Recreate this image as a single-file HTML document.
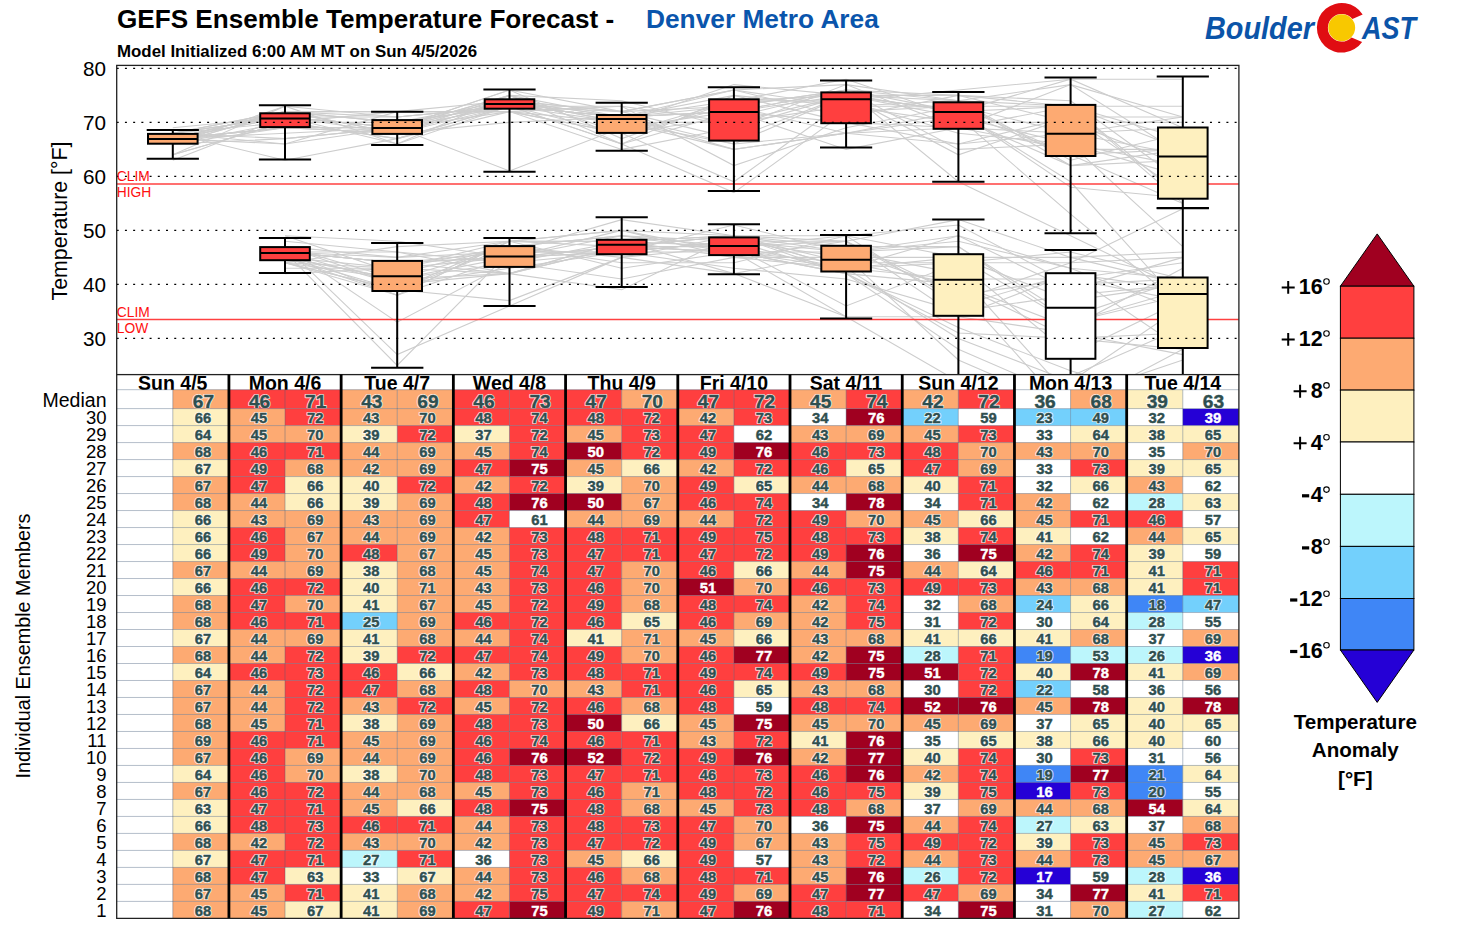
<!DOCTYPE html><html><head><meta charset="utf-8"><style>html,body{margin:0;padding:0;background:#fff;}svg{display:block;}</style></head><body>
<svg width="1458" height="937" viewBox="0 0 1458 937" font-family='"Liberation Sans", sans-serif'>
<rect width="1458" height="937" fill="#fff"/>
<text x="117" y="28.2" font-size="26.12" font-weight="bold" fill="#000">GEFS Ensemble Temperature Forecast -</text>
<text x="646" y="28.2" font-size="26.3" font-weight="bold" fill="#0a55ac">Denver Metro Area</text>
<text x="117" y="57.4" font-size="16.87" font-weight="bold" fill="#000">Model Initialized 6:00 AM MT on Sun 4/5/2026</text>
<g>
<text x="1205" y="39" font-size="31" font-weight="bold" font-style="italic" fill="#0b54a8" textLength="109" lengthAdjust="spacingAndGlyphs">Boulder</text>
<path d="M1362.66,14.55 A24.8,24.8 0 1,0 1362.11,41.88 L1351.56,37.46 A13.8,13.8 0 1,1 1352.42,19.12 Z" fill="#e00d12"/>
<circle cx="1341.7" cy="27.8" r="13.45" fill="#f8c800"/>
<text x="1362" y="39" font-size="31" font-weight="bold" font-style="italic" fill="#0b54a8" textLength="54" lengthAdjust="spacingAndGlyphs">AST</text>
</g>
<defs><clipPath id="pc"><rect x="116.7" y="65.4" width="1122.2" height="309.20000000000005"/></clipPath></defs>
<g clip-path="url(#pc)">
<polyline fill="none" stroke="#cdcdcd" stroke-width="1.1" points="172.8,144.0 285.0,111.6 397.2,122.4 509.5,100.8 621.7,111.6 733.9,106.2 846.1,90.0 958.4,181.8 1070.6,235.8 1182.8,289.8"/>
<polyline fill="none" stroke="#cdcdcd" stroke-width="1.1" points="285.0,257.4 397.2,268.2 509.5,241.2 621.7,241.2 733.9,273.6 846.1,316.8 958.4,381.6 1070.6,376.2 1182.8,327.6"/>
<polyline fill="none" stroke="#cdcdcd" stroke-width="1.1" points="172.8,154.8 285.0,122.4 397.2,111.6 509.5,111.6 621.7,106.2 733.9,165.6 846.1,127.8 958.4,106.2 1070.6,154.8 1182.8,149.4"/>
<polyline fill="none" stroke="#cdcdcd" stroke-width="1.1" points="285.0,257.4 397.2,289.8 509.5,300.6 621.7,257.4 733.9,246.6 846.1,268.2 958.4,257.4 1070.6,322.2 1182.8,295.2"/>
<polyline fill="none" stroke="#cdcdcd" stroke-width="1.1" points="172.8,133.2 285.0,117.0 397.2,127.8 509.5,100.8 621.7,111.6 733.9,90.0 846.1,106.2 958.4,122.4 1070.6,122.4 1182.8,122.4"/>
<polyline fill="none" stroke="#cdcdcd" stroke-width="1.1" points="285.0,252.0 397.2,262.8 509.5,257.4 621.7,230.4 733.9,235.8 846.1,252.0 958.4,241.2 1070.6,268.2 1182.8,311.4"/>
<polyline fill="none" stroke="#cdcdcd" stroke-width="1.1" points="172.8,138.6 285.0,133.2 397.2,127.8 509.5,95.4 621.7,144.0 733.9,111.6 846.1,149.4 958.4,127.8 1070.6,106.2 1182.8,149.4"/>
<polyline fill="none" stroke="#cdcdcd" stroke-width="1.1" points="285.0,235.8 397.2,273.6 509.5,246.6 621.7,257.4 733.9,273.6 846.1,252.0 958.4,246.6 1070.6,322.2 1182.8,289.8"/>
<polyline fill="none" stroke="#cdcdcd" stroke-width="1.1" points="172.8,138.6 285.0,144.0 397.2,111.6 509.5,111.6 621.7,122.4 733.9,149.4 846.1,133.2 958.4,117.0 1070.6,144.0 1182.8,165.6"/>
<polyline fill="none" stroke="#cdcdcd" stroke-width="1.1" points="285.0,246.6 397.2,284.4 509.5,273.6 621.7,289.8 733.9,235.8 846.1,262.8 958.4,284.4 1070.6,327.6 1182.8,268.2"/>
<polyline fill="none" stroke="#cdcdcd" stroke-width="1.1" points="172.8,133.2 285.0,144.0 397.2,127.8 509.5,90.0 621.7,138.6 733.9,100.8 846.1,79.2 958.4,117.0 1070.6,165.6 1182.8,160.2"/>
<polyline fill="none" stroke="#cdcdcd" stroke-width="1.1" points="285.0,262.8 397.2,289.8 509.5,241.2 621.7,230.4 733.9,252.0 846.1,316.8 958.4,316.8 1070.6,273.6 1182.8,349.2"/>
<polyline fill="none" stroke="#cdcdcd" stroke-width="1.1" points="172.8,144.0 285.0,127.8 397.2,127.8 509.5,171.0 621.7,127.8 733.9,111.6 846.1,122.4 958.4,144.0 1070.6,117.0 1182.8,192.6"/>
<polyline fill="none" stroke="#cdcdcd" stroke-width="1.1" points="285.0,268.2 397.2,268.2 509.5,246.6 621.7,262.8 733.9,262.8 846.1,235.8 958.4,257.4 1070.6,257.4 1182.8,252.0"/>
<polyline fill="none" stroke="#cdcdcd" stroke-width="1.1" points="172.8,144.0 285.0,138.6 397.2,127.8 509.5,106.2 621.7,117.0 733.9,95.4 846.1,106.2 958.4,100.8 1070.6,165.6 1182.8,149.4"/>
<polyline fill="none" stroke="#cdcdcd" stroke-width="1.1" points="285.0,252.0 397.2,262.8 509.5,273.6 621.7,241.2 733.9,235.8 846.1,241.2 958.4,295.2 1070.6,279.0 1182.8,262.8"/>
<polyline fill="none" stroke="#cdcdcd" stroke-width="1.1" points="172.8,144.0 285.0,122.4 397.2,138.6 509.5,106.2 621.7,117.0 733.9,111.6 846.1,90.0 958.4,95.4 1070.6,100.8 1182.8,181.8"/>
<polyline fill="none" stroke="#cdcdcd" stroke-width="1.1" points="285.0,235.8 397.2,241.2 509.5,257.4 621.7,246.6 733.9,246.6 846.1,235.8 958.4,306.0 1070.6,273.6 1182.8,289.8"/>
<polyline fill="none" stroke="#cdcdcd" stroke-width="1.1" points="172.8,138.6 285.0,127.8 397.2,133.2 509.5,100.8 621.7,122.4 733.9,144.0 846.1,95.4 958.4,154.8 1070.6,117.0 1182.8,117.0"/>
<polyline fill="none" stroke="#cdcdcd" stroke-width="1.1" points="285.0,262.8 397.2,295.2 509.5,257.4 621.7,246.6 733.9,252.0 846.1,262.8 958.4,262.8 1070.6,252.0 1182.8,279.0"/>
<polyline fill="none" stroke="#cdcdcd" stroke-width="1.1" points="172.8,144.0 285.0,111.6 397.2,117.0 509.5,106.2 621.7,122.4 733.9,122.4 846.1,106.2 958.4,106.2 1070.6,133.2 1182.8,117.0"/>
<polyline fill="none" stroke="#cdcdcd" stroke-width="1.1" points="285.0,252.0 397.2,284.4 509.5,268.2 621.7,252.0 733.9,225.0 846.1,252.0 958.4,235.8 1070.6,268.2 1182.8,279.0"/>
<polyline fill="none" stroke="#cdcdcd" stroke-width="1.1" points="172.8,133.2 285.0,122.4 397.2,138.6 509.5,111.6 621.7,133.2 733.9,100.8 846.1,100.8 958.4,133.2 1070.6,144.0 1182.8,246.6"/>
<polyline fill="none" stroke="#cdcdcd" stroke-width="1.1" points="285.0,246.6 397.2,279.0 509.5,257.4 621.7,235.8 733.9,241.2 846.1,273.6 958.4,327.6 1070.6,370.8 1182.8,403.2"/>
<polyline fill="none" stroke="#cdcdcd" stroke-width="1.1" points="172.8,133.2 285.0,117.0 397.2,127.8 509.5,111.6 621.7,149.4 733.9,127.8 846.1,95.4 958.4,111.6 1070.6,154.8 1182.8,203.4"/>
<polyline fill="none" stroke="#cdcdcd" stroke-width="1.1" points="285.0,252.0 397.2,365.4 509.5,252.0 621.7,252.0 733.9,252.0 846.1,273.6 958.4,333.0 1070.6,338.4 1182.8,349.2"/>
<polyline fill="none" stroke="#cdcdcd" stroke-width="1.1" points="172.8,138.6 285.0,127.8 397.2,133.2 509.5,100.8 621.7,117.0 733.9,144.0 846.1,133.2 958.4,144.0 1070.6,133.2 1182.8,127.8"/>
<polyline fill="none" stroke="#cdcdcd" stroke-width="1.1" points="285.0,262.8 397.2,279.0 509.5,262.8 621.7,279.0 733.9,257.4 846.1,268.2 958.4,279.0 1070.6,279.0 1182.8,300.6"/>
<polyline fill="none" stroke="#cdcdcd" stroke-width="1.1" points="172.8,133.2 285.0,111.6 397.2,111.6 509.5,100.8 621.7,122.4 733.9,84.6 846.1,95.4 958.4,117.0 1070.6,214.2 1182.8,306.0"/>
<polyline fill="none" stroke="#cdcdcd" stroke-width="1.1" points="285.0,262.8 397.2,289.8 509.5,246.6 621.7,235.8 733.9,252.0 846.1,273.6 958.4,349.2 1070.6,397.8 1182.8,360.0"/>
<polyline fill="none" stroke="#cdcdcd" stroke-width="1.1" points="172.8,154.8 285.0,106.2 397.2,144.0 509.5,106.2 621.7,117.0 733.9,100.8 846.1,95.4 958.4,111.6 1070.6,79.2 1182.8,127.8"/>
<polyline fill="none" stroke="#cdcdcd" stroke-width="1.1" points="285.0,252.0 397.2,252.0 509.5,273.6 621.7,241.2 733.9,235.8 846.1,235.8 958.4,225.0 1070.6,284.4 1182.8,279.0"/>
<polyline fill="none" stroke="#cdcdcd" stroke-width="1.1" points="172.8,138.6 285.0,111.6 397.2,133.2 509.5,122.4 621.7,117.0 733.9,149.4 846.1,133.2 958.4,111.6 1070.6,187.2 1182.8,198.0"/>
<polyline fill="none" stroke="#cdcdcd" stroke-width="1.1" points="285.0,262.8 397.2,246.6 509.5,241.2 621.7,268.2 733.9,252.0 846.1,268.2 958.4,338.4 1070.6,381.6 1182.8,306.0"/>
<polyline fill="none" stroke="#cdcdcd" stroke-width="1.1" points="172.8,138.6 285.0,111.6 397.2,111.6 509.5,111.6 621.7,133.2 733.9,181.8 846.1,100.8 958.4,90.0 1070.6,79.2 1182.8,79.2"/>
<polyline fill="none" stroke="#cdcdcd" stroke-width="1.1" points="285.0,262.8 397.2,268.2 509.5,257.4 621.7,252.0 733.9,241.2 846.1,241.2 958.4,219.6 1070.6,257.4 1182.8,284.4"/>
<polyline fill="none" stroke="#cdcdcd" stroke-width="1.1" points="172.8,133.2 285.0,117.0 397.2,127.8 509.5,106.2 621.7,144.0 733.9,95.4 846.1,122.4 958.4,127.8 1070.6,149.4 1182.8,149.4"/>
<polyline fill="none" stroke="#cdcdcd" stroke-width="1.1" points="285.0,257.4 397.2,295.2 509.5,241.2 621.7,230.4 733.9,257.4 846.1,257.4 958.4,257.4 1070.6,300.6 1182.8,284.4"/>
<polyline fill="none" stroke="#cdcdcd" stroke-width="1.1" points="172.8,127.8 285.0,117.0 397.2,127.8 509.5,100.8 621.7,117.0 733.9,111.6 846.1,90.0 958.4,149.4 1070.6,144.0 1182.8,176.4"/>
<polyline fill="none" stroke="#cdcdcd" stroke-width="1.1" points="285.0,252.0 397.2,257.4 509.5,252.0 621.7,252.0 733.9,268.2 846.1,279.0 958.4,311.4 1070.6,295.2 1182.8,284.4"/>
<polyline fill="none" stroke="#cdcdcd" stroke-width="1.1" points="172.8,138.6 285.0,127.8 397.2,127.8 509.5,90.0 621.7,111.6 733.9,90.0 846.1,84.6 958.4,100.8 1070.6,106.2 1182.8,198.0"/>
<polyline fill="none" stroke="#cdcdcd" stroke-width="1.1" points="285.0,252.0 397.2,262.8 509.5,252.0 621.7,219.6 733.9,235.8 846.1,273.6 958.4,284.4 1070.6,338.4 1182.8,333.0"/>
<polyline fill="none" stroke="#cdcdcd" stroke-width="1.1" points="172.8,154.8 285.0,122.4 397.2,122.4 509.5,106.2 621.7,117.0 733.9,106.2 846.1,90.0 958.4,100.8 1070.6,84.6 1182.8,154.8"/>
<polyline fill="none" stroke="#cdcdcd" stroke-width="1.1" points="285.0,252.0 397.2,295.2 509.5,241.2 621.7,246.6 733.9,252.0 846.1,252.0 958.4,273.6 1070.6,397.8 1182.8,387.0"/>
<polyline fill="none" stroke="#cdcdcd" stroke-width="1.1" points="172.8,138.6 285.0,111.6 397.2,133.2 509.5,106.2 621.7,117.0 733.9,111.6 846.1,95.4 958.4,95.4 1070.6,106.2 1182.8,203.4"/>
<polyline fill="none" stroke="#cdcdcd" stroke-width="1.1" points="285.0,252.0 397.2,262.8 509.5,257.4 621.7,252.0 733.9,241.2 846.1,252.0 958.4,289.8 1070.6,414.0 1182.8,392.4"/>
<polyline fill="none" stroke="#cdcdcd" stroke-width="1.1" points="172.8,160.2 285.0,117.0 397.2,144.0 509.5,95.4 621.7,133.2 733.9,106.2 846.1,133.2 958.4,127.8 1070.6,133.2 1182.8,154.8"/>
<polyline fill="none" stroke="#cdcdcd" stroke-width="1.1" points="285.0,246.6 397.2,257.4 509.5,241.2 621.7,241.2 733.9,257.4 846.1,241.2 958.4,300.6 1070.6,262.8 1182.8,208.8"/>
<polyline fill="none" stroke="#cdcdcd" stroke-width="1.1" points="172.8,144.0 285.0,106.2 397.2,117.0 509.5,106.2 621.7,106.2 733.9,122.4 846.1,95.4 958.4,100.8 1070.6,160.2 1182.8,133.2"/>
<polyline fill="none" stroke="#cdcdcd" stroke-width="1.1" points="285.0,241.2 397.2,252.0 509.5,262.8 621.7,241.2 733.9,246.6 846.1,306.0 958.4,262.8 1070.6,354.6 1182.8,300.6"/>
<polyline fill="none" stroke="#cdcdcd" stroke-width="1.1" points="172.8,133.2 285.0,111.6 397.2,122.4 509.5,106.2 621.7,111.6 733.9,138.6 846.1,95.4 958.4,111.6 1070.6,106.2 1182.8,106.2"/>
<polyline fill="none" stroke="#cdcdcd" stroke-width="1.1" points="285.0,273.6 397.2,268.2 509.5,273.6 621.7,246.6 733.9,235.8 846.1,268.2 958.4,235.8 1070.6,289.8 1182.8,257.4"/>
<polyline fill="none" stroke="#cdcdcd" stroke-width="1.1" points="172.8,138.6 285.0,117.0 397.2,117.0 509.5,106.2 621.7,144.0 733.9,192.6 846.1,111.6 958.4,106.2 1070.6,106.2 1182.8,138.6"/>
<polyline fill="none" stroke="#cdcdcd" stroke-width="1.1" points="285.0,246.6 397.2,354.6 509.5,306.0 621.7,257.4 733.9,235.8 846.1,268.2 958.4,262.8 1070.6,262.8 1182.8,257.4"/>
<polyline fill="none" stroke="#cdcdcd" stroke-width="1.1" points="172.8,133.2 285.0,160.2 397.2,138.6 509.5,106.2 621.7,133.2 733.9,117.0 846.1,90.0 958.4,111.6 1070.6,181.8 1182.8,306.0"/>
<polyline fill="none" stroke="#cdcdcd" stroke-width="1.1" points="285.0,246.6 397.2,322.2 509.5,262.8 621.7,252.0 733.9,241.2 846.1,257.4 958.4,360.0 1070.6,408.6 1182.8,349.2"/>
<polyline fill="none" stroke="#cdcdcd" stroke-width="1.1" points="172.8,138.6 285.0,117.0 397.2,133.2 509.5,95.4 621.7,100.8 733.9,127.8 846.1,84.6 958.4,127.8 1070.6,84.6 1182.8,117.0"/>
<polyline fill="none" stroke="#cdcdcd" stroke-width="1.1" points="285.0,257.4 397.2,279.0 509.5,273.6 621.7,246.6 733.9,235.8 846.1,246.6 958.4,246.6 1070.6,316.8 1182.8,279.0"/>
<polyline fill="none" stroke="#cdcdcd" stroke-width="1.1" points="172.8,133.2 285.0,138.6 397.2,127.8 509.5,95.4 621.7,117.0 733.9,90.0 846.1,117.0 958.4,95.4 1070.6,122.4 1182.8,165.6"/>
<polyline fill="none" stroke="#cdcdcd" stroke-width="1.1" points="285.0,257.4 397.2,279.0 509.5,246.6 621.7,235.8 733.9,246.6 846.1,241.2 958.4,316.8 1070.6,333.0 1182.8,354.6"/>
<line x1="116.7" x2="1238.9" y1="183.9" y2="183.9" stroke="#ff4040" stroke-width="1.5"/>
<line x1="116.7" x2="1238.9" y1="319.6" y2="319.6" stroke="#ff4040" stroke-width="1.5"/>
<line x1="172.8" x2="172.8" y1="130.0" y2="133.9" stroke="#000" stroke-width="2.0"/>
<line x1="172.8" x2="172.8" y1="143.7" y2="158.7" stroke="#000" stroke-width="2.0"/>
<line x1="146.7" x2="198.9" y1="130.0" y2="130.0" stroke="#000" stroke-width="2.0"/>
<line x1="146.7" x2="198.9" y1="158.7" y2="158.7" stroke="#000" stroke-width="2.0"/>
<rect x="148.0" y="133.9" width="49.6" height="9.8" fill="#fdaa72" stroke="#000" stroke-width="2.0"/>
<line x1="148.0" x2="197.6" y1="138.9" y2="138.9" stroke="#000" stroke-width="2.0"/>
<line x1="285.0" x2="285.0" y1="105.2" y2="113.3" stroke="#000" stroke-width="2.0"/>
<line x1="285.0" x2="285.0" y1="127.1" y2="159.5" stroke="#000" stroke-width="2.0"/>
<line x1="258.9" x2="311.1" y1="105.2" y2="105.2" stroke="#000" stroke-width="2.0"/>
<line x1="258.9" x2="311.1" y1="159.5" y2="159.5" stroke="#000" stroke-width="2.0"/>
<rect x="260.2" y="113.3" width="49.6" height="13.8" fill="#ff3f3f" stroke="#000" stroke-width="2.0"/>
<line x1="260.2" x2="309.8" y1="118.4" y2="118.4" stroke="#000" stroke-width="2.0"/>
<line x1="285.0" x2="285.0" y1="237.9" y2="247.1" stroke="#000" stroke-width="2.0"/>
<line x1="285.0" x2="285.0" y1="260.2" y2="272.9" stroke="#000" stroke-width="2.0"/>
<line x1="258.9" x2="311.1" y1="237.9" y2="237.9" stroke="#000" stroke-width="2.0"/>
<line x1="258.9" x2="311.1" y1="272.9" y2="272.9" stroke="#000" stroke-width="2.0"/>
<rect x="260.2" y="247.1" width="49.6" height="13.1" fill="#ff3f3f" stroke="#000" stroke-width="2.0"/>
<line x1="260.2" x2="309.8" y1="252.9" y2="252.9" stroke="#000" stroke-width="2.0"/>
<line x1="397.2" x2="397.2" y1="111.7" y2="120.1" stroke="#000" stroke-width="2.0"/>
<line x1="397.2" x2="397.2" y1="133.9" y2="145.0" stroke="#000" stroke-width="2.0"/>
<line x1="371.1" x2="423.4" y1="111.7" y2="111.7" stroke="#000" stroke-width="2.0"/>
<line x1="371.1" x2="423.4" y1="145.0" y2="145.0" stroke="#000" stroke-width="2.0"/>
<rect x="372.4" y="120.1" width="49.6" height="13.8" fill="#fdaa72" stroke="#000" stroke-width="2.0"/>
<line x1="372.4" x2="422.1" y1="128.0" y2="128.0" stroke="#000" stroke-width="2.0"/>
<line x1="397.2" x2="397.2" y1="243.0" y2="260.9" stroke="#000" stroke-width="2.0"/>
<line x1="397.2" x2="397.2" y1="291.0" y2="367.8" stroke="#000" stroke-width="2.0"/>
<line x1="371.1" x2="423.4" y1="243.0" y2="243.0" stroke="#000" stroke-width="2.0"/>
<line x1="371.1" x2="423.4" y1="367.8" y2="367.8" stroke="#000" stroke-width="2.0"/>
<rect x="372.4" y="260.9" width="49.6" height="30.1" fill="#fdaa72" stroke="#000" stroke-width="2.0"/>
<line x1="372.4" x2="422.1" y1="276.2" y2="276.2" stroke="#000" stroke-width="2.0"/>
<line x1="509.5" x2="509.5" y1="89.4" y2="99.3" stroke="#000" stroke-width="2.0"/>
<line x1="509.5" x2="509.5" y1="108.7" y2="171.8" stroke="#000" stroke-width="2.0"/>
<line x1="483.4" x2="535.6" y1="89.4" y2="89.4" stroke="#000" stroke-width="2.0"/>
<line x1="483.4" x2="535.6" y1="171.8" y2="171.8" stroke="#000" stroke-width="2.0"/>
<rect x="484.7" y="99.3" width="49.6" height="9.4" fill="#ff3f3f" stroke="#000" stroke-width="2.0"/>
<line x1="484.7" x2="534.3" y1="104.0" y2="104.0" stroke="#000" stroke-width="2.0"/>
<line x1="509.5" x2="509.5" y1="238.1" y2="246.1" stroke="#000" stroke-width="2.0"/>
<line x1="509.5" x2="509.5" y1="266.9" y2="305.9" stroke="#000" stroke-width="2.0"/>
<line x1="483.4" x2="535.6" y1="238.1" y2="238.1" stroke="#000" stroke-width="2.0"/>
<line x1="483.4" x2="535.6" y1="305.9" y2="305.9" stroke="#000" stroke-width="2.0"/>
<rect x="484.7" y="246.1" width="49.6" height="20.8" fill="#fdaa72" stroke="#000" stroke-width="2.0"/>
<line x1="484.7" x2="534.3" y1="256.6" y2="256.6" stroke="#000" stroke-width="2.0"/>
<line x1="621.7" x2="621.7" y1="102.7" y2="115.0" stroke="#000" stroke-width="2.0"/>
<line x1="621.7" x2="621.7" y1="132.9" y2="150.8" stroke="#000" stroke-width="2.0"/>
<line x1="595.6" x2="647.8" y1="102.7" y2="102.7" stroke="#000" stroke-width="2.0"/>
<line x1="595.6" x2="647.8" y1="150.8" y2="150.8" stroke="#000" stroke-width="2.0"/>
<rect x="596.9" y="115.0" width="49.6" height="17.9" fill="#fdaa72" stroke="#000" stroke-width="2.0"/>
<line x1="596.9" x2="646.5" y1="118.9" y2="118.9" stroke="#000" stroke-width="2.0"/>
<line x1="621.7" x2="621.7" y1="217.2" y2="239.8" stroke="#000" stroke-width="2.0"/>
<line x1="621.7" x2="621.7" y1="254.2" y2="287.1" stroke="#000" stroke-width="2.0"/>
<line x1="595.6" x2="647.8" y1="217.2" y2="217.2" stroke="#000" stroke-width="2.0"/>
<line x1="595.6" x2="647.8" y1="287.1" y2="287.1" stroke="#000" stroke-width="2.0"/>
<rect x="596.9" y="239.8" width="49.6" height="14.4" fill="#ff3f3f" stroke="#000" stroke-width="2.0"/>
<line x1="596.9" x2="646.5" y1="244.8" y2="244.8" stroke="#000" stroke-width="2.0"/>
<line x1="733.9" x2="733.9" y1="87.3" y2="99.3" stroke="#000" stroke-width="2.0"/>
<line x1="733.9" x2="733.9" y1="140.6" y2="191.0" stroke="#000" stroke-width="2.0"/>
<line x1="707.8" x2="760.0" y1="87.3" y2="87.3" stroke="#000" stroke-width="2.0"/>
<line x1="707.8" x2="760.0" y1="191.0" y2="191.0" stroke="#000" stroke-width="2.0"/>
<rect x="709.1" y="99.3" width="49.6" height="41.3" fill="#ff3f3f" stroke="#000" stroke-width="2.0"/>
<line x1="709.1" x2="758.7" y1="112.1" y2="112.1" stroke="#000" stroke-width="2.0"/>
<line x1="733.9" x2="733.9" y1="224.3" y2="237.4" stroke="#000" stroke-width="2.0"/>
<line x1="733.9" x2="733.9" y1="255.1" y2="274.2" stroke="#000" stroke-width="2.0"/>
<line x1="707.8" x2="760.0" y1="224.3" y2="224.3" stroke="#000" stroke-width="2.0"/>
<line x1="707.8" x2="760.0" y1="274.2" y2="274.2" stroke="#000" stroke-width="2.0"/>
<rect x="709.1" y="237.4" width="49.6" height="17.7" fill="#ff3f3f" stroke="#000" stroke-width="2.0"/>
<line x1="709.1" x2="758.7" y1="246.0" y2="246.0" stroke="#000" stroke-width="2.0"/>
<line x1="846.1" x2="846.1" y1="80.5" y2="92.4" stroke="#000" stroke-width="2.0"/>
<line x1="846.1" x2="846.1" y1="123.2" y2="147.4" stroke="#000" stroke-width="2.0"/>
<line x1="820.0" x2="872.2" y1="80.5" y2="80.5" stroke="#000" stroke-width="2.0"/>
<line x1="820.0" x2="872.2" y1="147.4" y2="147.4" stroke="#000" stroke-width="2.0"/>
<rect x="821.3" y="92.4" width="49.6" height="30.8" fill="#ff3f3f" stroke="#000" stroke-width="2.0"/>
<line x1="821.3" x2="870.9" y1="99.3" y2="99.3" stroke="#000" stroke-width="2.0"/>
<line x1="846.1" x2="846.1" y1="234.9" y2="245.8" stroke="#000" stroke-width="2.0"/>
<line x1="846.1" x2="846.1" y1="271.5" y2="318.6" stroke="#000" stroke-width="2.0"/>
<line x1="820.0" x2="872.2" y1="234.9" y2="234.9" stroke="#000" stroke-width="2.0"/>
<line x1="820.0" x2="872.2" y1="318.6" y2="318.6" stroke="#000" stroke-width="2.0"/>
<rect x="821.3" y="245.8" width="49.6" height="25.7" fill="#fdaa72" stroke="#000" stroke-width="2.0"/>
<line x1="821.3" x2="870.9" y1="259.8" y2="259.8" stroke="#000" stroke-width="2.0"/>
<line x1="958.4" x2="958.4" y1="91.9" y2="102.3" stroke="#000" stroke-width="2.0"/>
<line x1="958.4" x2="958.4" y1="128.8" y2="181.7" stroke="#000" stroke-width="2.0"/>
<line x1="932.2" x2="984.5" y1="91.9" y2="91.9" stroke="#000" stroke-width="2.0"/>
<line x1="932.2" x2="984.5" y1="181.7" y2="181.7" stroke="#000" stroke-width="2.0"/>
<rect x="933.6" y="102.3" width="49.6" height="26.5" fill="#ff3f3f" stroke="#000" stroke-width="2.0"/>
<line x1="933.6" x2="983.1" y1="112.1" y2="112.1" stroke="#000" stroke-width="2.0"/>
<line x1="958.4" x2="958.4" y1="219.6" y2="254.2" stroke="#000" stroke-width="2.0"/>
<line x1="958.4" x2="958.4" y1="315.8" y2="400" stroke="#000" stroke-width="2.0"/>
<line x1="932.2" x2="984.5" y1="219.6" y2="219.6" stroke="#000" stroke-width="2.0"/>
<line x1="932.2" x2="984.5" y1="400" y2="400" stroke="#000" stroke-width="2.0"/>
<rect x="933.6" y="254.2" width="49.6" height="61.6" fill="#fef0bf" stroke="#000" stroke-width="2.0"/>
<line x1="933.6" x2="983.1" y1="279.8" y2="279.8" stroke="#000" stroke-width="2.0"/>
<line x1="1070.6" x2="1070.6" y1="77.6" y2="104.9" stroke="#000" stroke-width="2.0"/>
<line x1="1070.6" x2="1070.6" y1="156.0" y2="233.3" stroke="#000" stroke-width="2.0"/>
<line x1="1044.5" x2="1096.7" y1="77.6" y2="77.6" stroke="#000" stroke-width="2.0"/>
<line x1="1044.5" x2="1096.7" y1="233.3" y2="233.3" stroke="#000" stroke-width="2.0"/>
<rect x="1045.8" y="104.9" width="49.6" height="51.1" fill="#fdaa72" stroke="#000" stroke-width="2.0"/>
<line x1="1045.8" x2="1095.4" y1="133.8" y2="133.8" stroke="#000" stroke-width="2.0"/>
<line x1="1070.6" x2="1070.6" y1="249.9" y2="273.2" stroke="#000" stroke-width="2.0"/>
<line x1="1070.6" x2="1070.6" y1="358.8" y2="400" stroke="#000" stroke-width="2.0"/>
<line x1="1044.5" x2="1096.7" y1="249.9" y2="249.9" stroke="#000" stroke-width="2.0"/>
<line x1="1044.5" x2="1096.7" y1="400" y2="400" stroke="#000" stroke-width="2.0"/>
<rect x="1045.8" y="273.2" width="49.6" height="85.6" fill="#ffffff" stroke="#000" stroke-width="2.0"/>
<line x1="1045.8" x2="1095.4" y1="307.8" y2="307.8" stroke="#000" stroke-width="2.0"/>
<line x1="1182.8" x2="1182.8" y1="76.4" y2="127.5" stroke="#000" stroke-width="2.0"/>
<line x1="1182.8" x2="1182.8" y1="198.7" y2="208.2" stroke="#000" stroke-width="2.0"/>
<line x1="1156.7" x2="1208.9" y1="76.4" y2="76.4" stroke="#000" stroke-width="2.0"/>
<line x1="1156.7" x2="1208.9" y1="208.2" y2="208.2" stroke="#000" stroke-width="2.0"/>
<rect x="1158.0" y="127.5" width="49.6" height="71.2" fill="#fef0bf" stroke="#000" stroke-width="2.0"/>
<line x1="1158.0" x2="1207.6" y1="156.5" y2="156.5" stroke="#000" stroke-width="2.0"/>
<line x1="1182.8" x2="1182.8" y1="208.0" y2="277.5" stroke="#000" stroke-width="2.0"/>
<line x1="1182.8" x2="1182.8" y1="348.0" y2="400" stroke="#000" stroke-width="2.0"/>
<line x1="1156.7" x2="1208.9" y1="208.0" y2="208.0" stroke="#000" stroke-width="2.0"/>
<line x1="1156.7" x2="1208.9" y1="400" y2="400" stroke="#000" stroke-width="2.0"/>
<rect x="1158.0" y="277.5" width="49.6" height="70.5" fill="#fef0bf" stroke="#000" stroke-width="2.0"/>
<line x1="1158.0" x2="1207.6" y1="294.0" y2="294.0" stroke="#000" stroke-width="2.0"/>
<line x1="116.7" x2="1238.9" y1="68.4" y2="68.4" stroke="#000" stroke-width="1.25" stroke-dasharray="2 6.22"/>
<line x1="116.7" x2="1238.9" y1="122.4" y2="122.4" stroke="#000" stroke-width="1.25" stroke-dasharray="2 6.22"/>
<line x1="116.7" x2="1238.9" y1="176.4" y2="176.4" stroke="#000" stroke-width="1.25" stroke-dasharray="2 6.22"/>
<line x1="116.7" x2="1238.9" y1="230.4" y2="230.4" stroke="#000" stroke-width="1.25" stroke-dasharray="2 6.22"/>
<line x1="116.7" x2="1238.9" y1="284.4" y2="284.4" stroke="#000" stroke-width="1.25" stroke-dasharray="2 6.22"/>
<line x1="116.7" x2="1238.9" y1="338.4" y2="338.4" stroke="#000" stroke-width="1.25" stroke-dasharray="2 6.22"/>
</g>
<g font-size="13.8" fill="#ff1010"><text x="116.8" y="180.5">CLIM</text><text x="116.8" y="196.7">HIGH</text><text x="116.8" y="316.5">CLIM</text><text x="116.8" y="333">LOW</text></g>
<rect x="116.7" y="65.4" width="1122.2" height="309.2" fill="none" stroke="#222" stroke-width="1.3"/>
<text x="106" y="75.5" font-size="20.7" text-anchor="end" fill="#000">80</text>
<text x="106" y="129.5" font-size="20.7" text-anchor="end" fill="#000">70</text>
<text x="106" y="183.5" font-size="20.7" text-anchor="end" fill="#000">60</text>
<text x="106" y="237.5" font-size="20.7" text-anchor="end" fill="#000">50</text>
<text x="106" y="291.5" font-size="20.7" text-anchor="end" fill="#000">40</text>
<text x="106" y="345.5" font-size="20.7" text-anchor="end" fill="#000">30</text>
<text transform="translate(66.8,221) rotate(-90)" font-size="21.3" text-anchor="middle" fill="#000">Temperature [°F]</text>
<g>
<rect x="116.70" y="408.60" width="56.11" height="16.99" fill="#fff"/>
<rect x="172.81" y="408.60" width="56.11" height="16.99" fill="#fef0bf"/>
<rect x="116.70" y="425.59" width="56.11" height="16.99" fill="#fff"/>
<rect x="172.81" y="425.59" width="56.11" height="16.99" fill="#fef0bf"/>
<rect x="116.70" y="442.59" width="56.11" height="16.99" fill="#fff"/>
<rect x="172.81" y="442.59" width="56.11" height="16.99" fill="#fdaa72"/>
<rect x="116.70" y="459.58" width="56.11" height="16.99" fill="#fff"/>
<rect x="172.81" y="459.58" width="56.11" height="16.99" fill="#fef0bf"/>
<rect x="116.70" y="476.57" width="56.11" height="16.99" fill="#fff"/>
<rect x="172.81" y="476.57" width="56.11" height="16.99" fill="#fdaa72"/>
<rect x="116.70" y="493.56" width="56.11" height="16.99" fill="#fff"/>
<rect x="172.81" y="493.56" width="56.11" height="16.99" fill="#fdaa72"/>
<rect x="116.70" y="510.56" width="56.11" height="16.99" fill="#fff"/>
<rect x="172.81" y="510.56" width="56.11" height="16.99" fill="#fef0bf"/>
<rect x="116.70" y="527.55" width="56.11" height="16.99" fill="#fff"/>
<rect x="172.81" y="527.55" width="56.11" height="16.99" fill="#fef0bf"/>
<rect x="116.70" y="544.54" width="56.11" height="16.99" fill="#fff"/>
<rect x="172.81" y="544.54" width="56.11" height="16.99" fill="#fef0bf"/>
<rect x="116.70" y="561.54" width="56.11" height="16.99" fill="#fff"/>
<rect x="172.81" y="561.54" width="56.11" height="16.99" fill="#fdaa72"/>
<rect x="116.70" y="578.53" width="56.11" height="16.99" fill="#fff"/>
<rect x="172.81" y="578.53" width="56.11" height="16.99" fill="#fef0bf"/>
<rect x="116.70" y="595.52" width="56.11" height="16.99" fill="#fff"/>
<rect x="172.81" y="595.52" width="56.11" height="16.99" fill="#fdaa72"/>
<rect x="116.70" y="612.52" width="56.11" height="16.99" fill="#fff"/>
<rect x="172.81" y="612.52" width="56.11" height="16.99" fill="#fdaa72"/>
<rect x="116.70" y="629.51" width="56.11" height="16.99" fill="#fff"/>
<rect x="172.81" y="629.51" width="56.11" height="16.99" fill="#fef0bf"/>
<rect x="116.70" y="646.50" width="56.11" height="16.99" fill="#fff"/>
<rect x="172.81" y="646.50" width="56.11" height="16.99" fill="#fdaa72"/>
<rect x="116.70" y="663.50" width="56.11" height="16.99" fill="#fff"/>
<rect x="172.81" y="663.50" width="56.11" height="16.99" fill="#fef0bf"/>
<rect x="116.70" y="680.49" width="56.11" height="16.99" fill="#fff"/>
<rect x="172.81" y="680.49" width="56.11" height="16.99" fill="#fdaa72"/>
<rect x="116.70" y="697.48" width="56.11" height="16.99" fill="#fff"/>
<rect x="172.81" y="697.48" width="56.11" height="16.99" fill="#fdaa72"/>
<rect x="116.70" y="714.47" width="56.11" height="16.99" fill="#fff"/>
<rect x="172.81" y="714.47" width="56.11" height="16.99" fill="#fdaa72"/>
<rect x="116.70" y="731.47" width="56.11" height="16.99" fill="#fff"/>
<rect x="172.81" y="731.47" width="56.11" height="16.99" fill="#fdaa72"/>
<rect x="116.70" y="748.46" width="56.11" height="16.99" fill="#fff"/>
<rect x="172.81" y="748.46" width="56.11" height="16.99" fill="#fdaa72"/>
<rect x="116.70" y="765.45" width="56.11" height="16.99" fill="#fff"/>
<rect x="172.81" y="765.45" width="56.11" height="16.99" fill="#fef0bf"/>
<rect x="116.70" y="782.45" width="56.11" height="16.99" fill="#fff"/>
<rect x="172.81" y="782.45" width="56.11" height="16.99" fill="#fdaa72"/>
<rect x="116.70" y="799.44" width="56.11" height="16.99" fill="#fff"/>
<rect x="172.81" y="799.44" width="56.11" height="16.99" fill="#fef0bf"/>
<rect x="116.70" y="816.43" width="56.11" height="16.99" fill="#fff"/>
<rect x="172.81" y="816.43" width="56.11" height="16.99" fill="#fef0bf"/>
<rect x="116.70" y="833.42" width="56.11" height="16.99" fill="#fff"/>
<rect x="172.81" y="833.42" width="56.11" height="16.99" fill="#fdaa72"/>
<rect x="116.70" y="850.42" width="56.11" height="16.99" fill="#fff"/>
<rect x="172.81" y="850.42" width="56.11" height="16.99" fill="#fef0bf"/>
<rect x="116.70" y="867.41" width="56.11" height="16.99" fill="#fff"/>
<rect x="172.81" y="867.41" width="56.11" height="16.99" fill="#fdaa72"/>
<rect x="116.70" y="884.40" width="56.11" height="16.99" fill="#fff"/>
<rect x="172.81" y="884.40" width="56.11" height="16.99" fill="#fdaa72"/>
<rect x="116.70" y="901.40" width="56.11" height="16.99" fill="#fff"/>
<rect x="172.81" y="901.40" width="56.11" height="16.99" fill="#fdaa72"/>
<rect x="116.70" y="389.70" width="56.11" height="18.90" fill="#fff"/>
<rect x="172.81" y="389.70" width="56.11" height="18.90" fill="#fdaa72"/>
<rect x="228.92" y="408.60" width="56.11" height="16.99" fill="#fdaa72"/>
<rect x="285.03" y="408.60" width="56.11" height="16.99" fill="#ff3f3f"/>
<rect x="228.92" y="425.59" width="56.11" height="16.99" fill="#fdaa72"/>
<rect x="285.03" y="425.59" width="56.11" height="16.99" fill="#fdaa72"/>
<rect x="228.92" y="442.59" width="56.11" height="16.99" fill="#ff3f3f"/>
<rect x="285.03" y="442.59" width="56.11" height="16.99" fill="#ff3f3f"/>
<rect x="228.92" y="459.58" width="56.11" height="16.99" fill="#ff3f3f"/>
<rect x="285.03" y="459.58" width="56.11" height="16.99" fill="#fdaa72"/>
<rect x="228.92" y="476.57" width="56.11" height="16.99" fill="#ff3f3f"/>
<rect x="285.03" y="476.57" width="56.11" height="16.99" fill="#fef0bf"/>
<rect x="228.92" y="493.56" width="56.11" height="16.99" fill="#fdaa72"/>
<rect x="285.03" y="493.56" width="56.11" height="16.99" fill="#fef0bf"/>
<rect x="228.92" y="510.56" width="56.11" height="16.99" fill="#fdaa72"/>
<rect x="285.03" y="510.56" width="56.11" height="16.99" fill="#fdaa72"/>
<rect x="228.92" y="527.55" width="56.11" height="16.99" fill="#ff3f3f"/>
<rect x="285.03" y="527.55" width="56.11" height="16.99" fill="#fdaa72"/>
<rect x="228.92" y="544.54" width="56.11" height="16.99" fill="#ff3f3f"/>
<rect x="285.03" y="544.54" width="56.11" height="16.99" fill="#fdaa72"/>
<rect x="228.92" y="561.54" width="56.11" height="16.99" fill="#fdaa72"/>
<rect x="285.03" y="561.54" width="56.11" height="16.99" fill="#fdaa72"/>
<rect x="228.92" y="578.53" width="56.11" height="16.99" fill="#ff3f3f"/>
<rect x="285.03" y="578.53" width="56.11" height="16.99" fill="#ff3f3f"/>
<rect x="228.92" y="595.52" width="56.11" height="16.99" fill="#ff3f3f"/>
<rect x="285.03" y="595.52" width="56.11" height="16.99" fill="#fdaa72"/>
<rect x="228.92" y="612.52" width="56.11" height="16.99" fill="#ff3f3f"/>
<rect x="285.03" y="612.52" width="56.11" height="16.99" fill="#ff3f3f"/>
<rect x="228.92" y="629.51" width="56.11" height="16.99" fill="#fdaa72"/>
<rect x="285.03" y="629.51" width="56.11" height="16.99" fill="#fdaa72"/>
<rect x="228.92" y="646.50" width="56.11" height="16.99" fill="#fdaa72"/>
<rect x="285.03" y="646.50" width="56.11" height="16.99" fill="#ff3f3f"/>
<rect x="228.92" y="663.50" width="56.11" height="16.99" fill="#ff3f3f"/>
<rect x="285.03" y="663.50" width="56.11" height="16.99" fill="#ff3f3f"/>
<rect x="228.92" y="680.49" width="56.11" height="16.99" fill="#fdaa72"/>
<rect x="285.03" y="680.49" width="56.11" height="16.99" fill="#ff3f3f"/>
<rect x="228.92" y="697.48" width="56.11" height="16.99" fill="#fdaa72"/>
<rect x="285.03" y="697.48" width="56.11" height="16.99" fill="#ff3f3f"/>
<rect x="228.92" y="714.47" width="56.11" height="16.99" fill="#fdaa72"/>
<rect x="285.03" y="714.47" width="56.11" height="16.99" fill="#ff3f3f"/>
<rect x="228.92" y="731.47" width="56.11" height="16.99" fill="#ff3f3f"/>
<rect x="285.03" y="731.47" width="56.11" height="16.99" fill="#ff3f3f"/>
<rect x="228.92" y="748.46" width="56.11" height="16.99" fill="#ff3f3f"/>
<rect x="285.03" y="748.46" width="56.11" height="16.99" fill="#fdaa72"/>
<rect x="228.92" y="765.45" width="56.11" height="16.99" fill="#ff3f3f"/>
<rect x="285.03" y="765.45" width="56.11" height="16.99" fill="#fdaa72"/>
<rect x="228.92" y="782.45" width="56.11" height="16.99" fill="#ff3f3f"/>
<rect x="285.03" y="782.45" width="56.11" height="16.99" fill="#ff3f3f"/>
<rect x="228.92" y="799.44" width="56.11" height="16.99" fill="#ff3f3f"/>
<rect x="285.03" y="799.44" width="56.11" height="16.99" fill="#ff3f3f"/>
<rect x="228.92" y="816.43" width="56.11" height="16.99" fill="#ff3f3f"/>
<rect x="285.03" y="816.43" width="56.11" height="16.99" fill="#ff3f3f"/>
<rect x="228.92" y="833.42" width="56.11" height="16.99" fill="#fdaa72"/>
<rect x="285.03" y="833.42" width="56.11" height="16.99" fill="#ff3f3f"/>
<rect x="228.92" y="850.42" width="56.11" height="16.99" fill="#ff3f3f"/>
<rect x="285.03" y="850.42" width="56.11" height="16.99" fill="#ff3f3f"/>
<rect x="228.92" y="867.41" width="56.11" height="16.99" fill="#ff3f3f"/>
<rect x="285.03" y="867.41" width="56.11" height="16.99" fill="#fef0bf"/>
<rect x="228.92" y="884.40" width="56.11" height="16.99" fill="#fdaa72"/>
<rect x="285.03" y="884.40" width="56.11" height="16.99" fill="#ff3f3f"/>
<rect x="228.92" y="901.40" width="56.11" height="16.99" fill="#fdaa72"/>
<rect x="285.03" y="901.40" width="56.11" height="16.99" fill="#fef0bf"/>
<rect x="228.92" y="389.70" width="56.11" height="18.90" fill="#ff3f3f"/>
<rect x="285.03" y="389.70" width="56.11" height="18.90" fill="#ff3f3f"/>
<rect x="341.14" y="408.60" width="56.11" height="16.99" fill="#fdaa72"/>
<rect x="397.25" y="408.60" width="56.11" height="16.99" fill="#fdaa72"/>
<rect x="341.14" y="425.59" width="56.11" height="16.99" fill="#fef0bf"/>
<rect x="397.25" y="425.59" width="56.11" height="16.99" fill="#ff3f3f"/>
<rect x="341.14" y="442.59" width="56.11" height="16.99" fill="#fdaa72"/>
<rect x="397.25" y="442.59" width="56.11" height="16.99" fill="#fdaa72"/>
<rect x="341.14" y="459.58" width="56.11" height="16.99" fill="#fdaa72"/>
<rect x="397.25" y="459.58" width="56.11" height="16.99" fill="#fdaa72"/>
<rect x="341.14" y="476.57" width="56.11" height="16.99" fill="#fef0bf"/>
<rect x="397.25" y="476.57" width="56.11" height="16.99" fill="#ff3f3f"/>
<rect x="341.14" y="493.56" width="56.11" height="16.99" fill="#fef0bf"/>
<rect x="397.25" y="493.56" width="56.11" height="16.99" fill="#fdaa72"/>
<rect x="341.14" y="510.56" width="56.11" height="16.99" fill="#fdaa72"/>
<rect x="397.25" y="510.56" width="56.11" height="16.99" fill="#fdaa72"/>
<rect x="341.14" y="527.55" width="56.11" height="16.99" fill="#fdaa72"/>
<rect x="397.25" y="527.55" width="56.11" height="16.99" fill="#fdaa72"/>
<rect x="341.14" y="544.54" width="56.11" height="16.99" fill="#ff3f3f"/>
<rect x="397.25" y="544.54" width="56.11" height="16.99" fill="#fdaa72"/>
<rect x="341.14" y="561.54" width="56.11" height="16.99" fill="#fef0bf"/>
<rect x="397.25" y="561.54" width="56.11" height="16.99" fill="#fdaa72"/>
<rect x="341.14" y="578.53" width="56.11" height="16.99" fill="#fef0bf"/>
<rect x="397.25" y="578.53" width="56.11" height="16.99" fill="#fdaa72"/>
<rect x="341.14" y="595.52" width="56.11" height="16.99" fill="#fef0bf"/>
<rect x="397.25" y="595.52" width="56.11" height="16.99" fill="#fdaa72"/>
<rect x="341.14" y="612.52" width="56.11" height="16.99" fill="#73d0fc"/>
<rect x="397.25" y="612.52" width="56.11" height="16.99" fill="#fdaa72"/>
<rect x="341.14" y="629.51" width="56.11" height="16.99" fill="#fef0bf"/>
<rect x="397.25" y="629.51" width="56.11" height="16.99" fill="#fdaa72"/>
<rect x="341.14" y="646.50" width="56.11" height="16.99" fill="#fef0bf"/>
<rect x="397.25" y="646.50" width="56.11" height="16.99" fill="#ff3f3f"/>
<rect x="341.14" y="663.50" width="56.11" height="16.99" fill="#ff3f3f"/>
<rect x="397.25" y="663.50" width="56.11" height="16.99" fill="#fef0bf"/>
<rect x="341.14" y="680.49" width="56.11" height="16.99" fill="#ff3f3f"/>
<rect x="397.25" y="680.49" width="56.11" height="16.99" fill="#fdaa72"/>
<rect x="341.14" y="697.48" width="56.11" height="16.99" fill="#fdaa72"/>
<rect x="397.25" y="697.48" width="56.11" height="16.99" fill="#ff3f3f"/>
<rect x="341.14" y="714.47" width="56.11" height="16.99" fill="#fef0bf"/>
<rect x="397.25" y="714.47" width="56.11" height="16.99" fill="#fdaa72"/>
<rect x="341.14" y="731.47" width="56.11" height="16.99" fill="#fdaa72"/>
<rect x="397.25" y="731.47" width="56.11" height="16.99" fill="#fdaa72"/>
<rect x="341.14" y="748.46" width="56.11" height="16.99" fill="#fdaa72"/>
<rect x="397.25" y="748.46" width="56.11" height="16.99" fill="#fdaa72"/>
<rect x="341.14" y="765.45" width="56.11" height="16.99" fill="#fef0bf"/>
<rect x="397.25" y="765.45" width="56.11" height="16.99" fill="#fdaa72"/>
<rect x="341.14" y="782.45" width="56.11" height="16.99" fill="#fdaa72"/>
<rect x="397.25" y="782.45" width="56.11" height="16.99" fill="#fdaa72"/>
<rect x="341.14" y="799.44" width="56.11" height="16.99" fill="#fdaa72"/>
<rect x="397.25" y="799.44" width="56.11" height="16.99" fill="#fef0bf"/>
<rect x="341.14" y="816.43" width="56.11" height="16.99" fill="#ff3f3f"/>
<rect x="397.25" y="816.43" width="56.11" height="16.99" fill="#ff3f3f"/>
<rect x="341.14" y="833.42" width="56.11" height="16.99" fill="#fdaa72"/>
<rect x="397.25" y="833.42" width="56.11" height="16.99" fill="#fdaa72"/>
<rect x="341.14" y="850.42" width="56.11" height="16.99" fill="#bcf6fc"/>
<rect x="397.25" y="850.42" width="56.11" height="16.99" fill="#ff3f3f"/>
<rect x="341.14" y="867.41" width="56.11" height="16.99" fill="#ffffff"/>
<rect x="397.25" y="867.41" width="56.11" height="16.99" fill="#fef0bf"/>
<rect x="341.14" y="884.40" width="56.11" height="16.99" fill="#fef0bf"/>
<rect x="397.25" y="884.40" width="56.11" height="16.99" fill="#fdaa72"/>
<rect x="341.14" y="901.40" width="56.11" height="16.99" fill="#fef0bf"/>
<rect x="397.25" y="901.40" width="56.11" height="16.99" fill="#fdaa72"/>
<rect x="341.14" y="389.70" width="56.11" height="18.90" fill="#fdaa72"/>
<rect x="397.25" y="389.70" width="56.11" height="18.90" fill="#fdaa72"/>
<rect x="453.36" y="408.60" width="56.11" height="16.99" fill="#ff3f3f"/>
<rect x="509.47" y="408.60" width="56.11" height="16.99" fill="#ff3f3f"/>
<rect x="453.36" y="425.59" width="56.11" height="16.99" fill="#fef0bf"/>
<rect x="509.47" y="425.59" width="56.11" height="16.99" fill="#ff3f3f"/>
<rect x="453.36" y="442.59" width="56.11" height="16.99" fill="#fdaa72"/>
<rect x="509.47" y="442.59" width="56.11" height="16.99" fill="#ff3f3f"/>
<rect x="453.36" y="459.58" width="56.11" height="16.99" fill="#ff3f3f"/>
<rect x="509.47" y="459.58" width="56.11" height="16.99" fill="#a00020"/>
<rect x="453.36" y="476.57" width="56.11" height="16.99" fill="#fdaa72"/>
<rect x="509.47" y="476.57" width="56.11" height="16.99" fill="#ff3f3f"/>
<rect x="453.36" y="493.56" width="56.11" height="16.99" fill="#ff3f3f"/>
<rect x="509.47" y="493.56" width="56.11" height="16.99" fill="#a00020"/>
<rect x="453.36" y="510.56" width="56.11" height="16.99" fill="#ff3f3f"/>
<rect x="509.47" y="510.56" width="56.11" height="16.99" fill="#ffffff"/>
<rect x="453.36" y="527.55" width="56.11" height="16.99" fill="#fdaa72"/>
<rect x="509.47" y="527.55" width="56.11" height="16.99" fill="#ff3f3f"/>
<rect x="453.36" y="544.54" width="56.11" height="16.99" fill="#fdaa72"/>
<rect x="509.47" y="544.54" width="56.11" height="16.99" fill="#ff3f3f"/>
<rect x="453.36" y="561.54" width="56.11" height="16.99" fill="#fdaa72"/>
<rect x="509.47" y="561.54" width="56.11" height="16.99" fill="#ff3f3f"/>
<rect x="453.36" y="578.53" width="56.11" height="16.99" fill="#fdaa72"/>
<rect x="509.47" y="578.53" width="56.11" height="16.99" fill="#ff3f3f"/>
<rect x="453.36" y="595.52" width="56.11" height="16.99" fill="#fdaa72"/>
<rect x="509.47" y="595.52" width="56.11" height="16.99" fill="#ff3f3f"/>
<rect x="453.36" y="612.52" width="56.11" height="16.99" fill="#ff3f3f"/>
<rect x="509.47" y="612.52" width="56.11" height="16.99" fill="#ff3f3f"/>
<rect x="453.36" y="629.51" width="56.11" height="16.99" fill="#fdaa72"/>
<rect x="509.47" y="629.51" width="56.11" height="16.99" fill="#ff3f3f"/>
<rect x="453.36" y="646.50" width="56.11" height="16.99" fill="#ff3f3f"/>
<rect x="509.47" y="646.50" width="56.11" height="16.99" fill="#ff3f3f"/>
<rect x="453.36" y="663.50" width="56.11" height="16.99" fill="#fdaa72"/>
<rect x="509.47" y="663.50" width="56.11" height="16.99" fill="#ff3f3f"/>
<rect x="453.36" y="680.49" width="56.11" height="16.99" fill="#ff3f3f"/>
<rect x="509.47" y="680.49" width="56.11" height="16.99" fill="#fdaa72"/>
<rect x="453.36" y="697.48" width="56.11" height="16.99" fill="#fdaa72"/>
<rect x="509.47" y="697.48" width="56.11" height="16.99" fill="#ff3f3f"/>
<rect x="453.36" y="714.47" width="56.11" height="16.99" fill="#ff3f3f"/>
<rect x="509.47" y="714.47" width="56.11" height="16.99" fill="#ff3f3f"/>
<rect x="453.36" y="731.47" width="56.11" height="16.99" fill="#ff3f3f"/>
<rect x="509.47" y="731.47" width="56.11" height="16.99" fill="#ff3f3f"/>
<rect x="453.36" y="748.46" width="56.11" height="16.99" fill="#ff3f3f"/>
<rect x="509.47" y="748.46" width="56.11" height="16.99" fill="#a00020"/>
<rect x="453.36" y="765.45" width="56.11" height="16.99" fill="#ff3f3f"/>
<rect x="509.47" y="765.45" width="56.11" height="16.99" fill="#ff3f3f"/>
<rect x="453.36" y="782.45" width="56.11" height="16.99" fill="#fdaa72"/>
<rect x="509.47" y="782.45" width="56.11" height="16.99" fill="#ff3f3f"/>
<rect x="453.36" y="799.44" width="56.11" height="16.99" fill="#ff3f3f"/>
<rect x="509.47" y="799.44" width="56.11" height="16.99" fill="#a00020"/>
<rect x="453.36" y="816.43" width="56.11" height="16.99" fill="#fdaa72"/>
<rect x="509.47" y="816.43" width="56.11" height="16.99" fill="#ff3f3f"/>
<rect x="453.36" y="833.42" width="56.11" height="16.99" fill="#fdaa72"/>
<rect x="509.47" y="833.42" width="56.11" height="16.99" fill="#ff3f3f"/>
<rect x="453.36" y="850.42" width="56.11" height="16.99" fill="#ffffff"/>
<rect x="509.47" y="850.42" width="56.11" height="16.99" fill="#ff3f3f"/>
<rect x="453.36" y="867.41" width="56.11" height="16.99" fill="#fdaa72"/>
<rect x="509.47" y="867.41" width="56.11" height="16.99" fill="#ff3f3f"/>
<rect x="453.36" y="884.40" width="56.11" height="16.99" fill="#fdaa72"/>
<rect x="509.47" y="884.40" width="56.11" height="16.99" fill="#ff3f3f"/>
<rect x="453.36" y="901.40" width="56.11" height="16.99" fill="#ff3f3f"/>
<rect x="509.47" y="901.40" width="56.11" height="16.99" fill="#a00020"/>
<rect x="453.36" y="389.70" width="56.11" height="18.90" fill="#ff3f3f"/>
<rect x="509.47" y="389.70" width="56.11" height="18.90" fill="#ff3f3f"/>
<rect x="565.58" y="408.60" width="56.11" height="16.99" fill="#ff3f3f"/>
<rect x="621.69" y="408.60" width="56.11" height="16.99" fill="#ff3f3f"/>
<rect x="565.58" y="425.59" width="56.11" height="16.99" fill="#fdaa72"/>
<rect x="621.69" y="425.59" width="56.11" height="16.99" fill="#ff3f3f"/>
<rect x="565.58" y="442.59" width="56.11" height="16.99" fill="#a00020"/>
<rect x="621.69" y="442.59" width="56.11" height="16.99" fill="#ff3f3f"/>
<rect x="565.58" y="459.58" width="56.11" height="16.99" fill="#fdaa72"/>
<rect x="621.69" y="459.58" width="56.11" height="16.99" fill="#fef0bf"/>
<rect x="565.58" y="476.57" width="56.11" height="16.99" fill="#fef0bf"/>
<rect x="621.69" y="476.57" width="56.11" height="16.99" fill="#fdaa72"/>
<rect x="565.58" y="493.56" width="56.11" height="16.99" fill="#a00020"/>
<rect x="621.69" y="493.56" width="56.11" height="16.99" fill="#fdaa72"/>
<rect x="565.58" y="510.56" width="56.11" height="16.99" fill="#fdaa72"/>
<rect x="621.69" y="510.56" width="56.11" height="16.99" fill="#fdaa72"/>
<rect x="565.58" y="527.55" width="56.11" height="16.99" fill="#ff3f3f"/>
<rect x="621.69" y="527.55" width="56.11" height="16.99" fill="#ff3f3f"/>
<rect x="565.58" y="544.54" width="56.11" height="16.99" fill="#ff3f3f"/>
<rect x="621.69" y="544.54" width="56.11" height="16.99" fill="#ff3f3f"/>
<rect x="565.58" y="561.54" width="56.11" height="16.99" fill="#ff3f3f"/>
<rect x="621.69" y="561.54" width="56.11" height="16.99" fill="#fdaa72"/>
<rect x="565.58" y="578.53" width="56.11" height="16.99" fill="#ff3f3f"/>
<rect x="621.69" y="578.53" width="56.11" height="16.99" fill="#fdaa72"/>
<rect x="565.58" y="595.52" width="56.11" height="16.99" fill="#ff3f3f"/>
<rect x="621.69" y="595.52" width="56.11" height="16.99" fill="#fdaa72"/>
<rect x="565.58" y="612.52" width="56.11" height="16.99" fill="#ff3f3f"/>
<rect x="621.69" y="612.52" width="56.11" height="16.99" fill="#fef0bf"/>
<rect x="565.58" y="629.51" width="56.11" height="16.99" fill="#fef0bf"/>
<rect x="621.69" y="629.51" width="56.11" height="16.99" fill="#fdaa72"/>
<rect x="565.58" y="646.50" width="56.11" height="16.99" fill="#ff3f3f"/>
<rect x="621.69" y="646.50" width="56.11" height="16.99" fill="#fdaa72"/>
<rect x="565.58" y="663.50" width="56.11" height="16.99" fill="#ff3f3f"/>
<rect x="621.69" y="663.50" width="56.11" height="16.99" fill="#ff3f3f"/>
<rect x="565.58" y="680.49" width="56.11" height="16.99" fill="#fdaa72"/>
<rect x="621.69" y="680.49" width="56.11" height="16.99" fill="#ff3f3f"/>
<rect x="565.58" y="697.48" width="56.11" height="16.99" fill="#ff3f3f"/>
<rect x="621.69" y="697.48" width="56.11" height="16.99" fill="#fdaa72"/>
<rect x="565.58" y="714.47" width="56.11" height="16.99" fill="#a00020"/>
<rect x="621.69" y="714.47" width="56.11" height="16.99" fill="#fef0bf"/>
<rect x="565.58" y="731.47" width="56.11" height="16.99" fill="#ff3f3f"/>
<rect x="621.69" y="731.47" width="56.11" height="16.99" fill="#ff3f3f"/>
<rect x="565.58" y="748.46" width="56.11" height="16.99" fill="#a00020"/>
<rect x="621.69" y="748.46" width="56.11" height="16.99" fill="#ff3f3f"/>
<rect x="565.58" y="765.45" width="56.11" height="16.99" fill="#ff3f3f"/>
<rect x="621.69" y="765.45" width="56.11" height="16.99" fill="#ff3f3f"/>
<rect x="565.58" y="782.45" width="56.11" height="16.99" fill="#ff3f3f"/>
<rect x="621.69" y="782.45" width="56.11" height="16.99" fill="#fdaa72"/>
<rect x="565.58" y="799.44" width="56.11" height="16.99" fill="#ff3f3f"/>
<rect x="621.69" y="799.44" width="56.11" height="16.99" fill="#fdaa72"/>
<rect x="565.58" y="816.43" width="56.11" height="16.99" fill="#ff3f3f"/>
<rect x="621.69" y="816.43" width="56.11" height="16.99" fill="#ff3f3f"/>
<rect x="565.58" y="833.42" width="56.11" height="16.99" fill="#ff3f3f"/>
<rect x="621.69" y="833.42" width="56.11" height="16.99" fill="#ff3f3f"/>
<rect x="565.58" y="850.42" width="56.11" height="16.99" fill="#fdaa72"/>
<rect x="621.69" y="850.42" width="56.11" height="16.99" fill="#fef0bf"/>
<rect x="565.58" y="867.41" width="56.11" height="16.99" fill="#ff3f3f"/>
<rect x="621.69" y="867.41" width="56.11" height="16.99" fill="#fdaa72"/>
<rect x="565.58" y="884.40" width="56.11" height="16.99" fill="#ff3f3f"/>
<rect x="621.69" y="884.40" width="56.11" height="16.99" fill="#ff3f3f"/>
<rect x="565.58" y="901.40" width="56.11" height="16.99" fill="#ff3f3f"/>
<rect x="621.69" y="901.40" width="56.11" height="16.99" fill="#fdaa72"/>
<rect x="565.58" y="389.70" width="56.11" height="18.90" fill="#ff3f3f"/>
<rect x="621.69" y="389.70" width="56.11" height="18.90" fill="#fdaa72"/>
<rect x="677.80" y="408.60" width="56.11" height="16.99" fill="#fdaa72"/>
<rect x="733.91" y="408.60" width="56.11" height="16.99" fill="#ff3f3f"/>
<rect x="677.80" y="425.59" width="56.11" height="16.99" fill="#ff3f3f"/>
<rect x="733.91" y="425.59" width="56.11" height="16.99" fill="#ffffff"/>
<rect x="677.80" y="442.59" width="56.11" height="16.99" fill="#ff3f3f"/>
<rect x="733.91" y="442.59" width="56.11" height="16.99" fill="#a00020"/>
<rect x="677.80" y="459.58" width="56.11" height="16.99" fill="#fdaa72"/>
<rect x="733.91" y="459.58" width="56.11" height="16.99" fill="#ff3f3f"/>
<rect x="677.80" y="476.57" width="56.11" height="16.99" fill="#ff3f3f"/>
<rect x="733.91" y="476.57" width="56.11" height="16.99" fill="#fef0bf"/>
<rect x="677.80" y="493.56" width="56.11" height="16.99" fill="#ff3f3f"/>
<rect x="733.91" y="493.56" width="56.11" height="16.99" fill="#ff3f3f"/>
<rect x="677.80" y="510.56" width="56.11" height="16.99" fill="#fdaa72"/>
<rect x="733.91" y="510.56" width="56.11" height="16.99" fill="#ff3f3f"/>
<rect x="677.80" y="527.55" width="56.11" height="16.99" fill="#ff3f3f"/>
<rect x="733.91" y="527.55" width="56.11" height="16.99" fill="#ff3f3f"/>
<rect x="677.80" y="544.54" width="56.11" height="16.99" fill="#ff3f3f"/>
<rect x="733.91" y="544.54" width="56.11" height="16.99" fill="#ff3f3f"/>
<rect x="677.80" y="561.54" width="56.11" height="16.99" fill="#ff3f3f"/>
<rect x="733.91" y="561.54" width="56.11" height="16.99" fill="#fef0bf"/>
<rect x="677.80" y="578.53" width="56.11" height="16.99" fill="#a00020"/>
<rect x="733.91" y="578.53" width="56.11" height="16.99" fill="#fdaa72"/>
<rect x="677.80" y="595.52" width="56.11" height="16.99" fill="#ff3f3f"/>
<rect x="733.91" y="595.52" width="56.11" height="16.99" fill="#ff3f3f"/>
<rect x="677.80" y="612.52" width="56.11" height="16.99" fill="#ff3f3f"/>
<rect x="733.91" y="612.52" width="56.11" height="16.99" fill="#fdaa72"/>
<rect x="677.80" y="629.51" width="56.11" height="16.99" fill="#fdaa72"/>
<rect x="733.91" y="629.51" width="56.11" height="16.99" fill="#fef0bf"/>
<rect x="677.80" y="646.50" width="56.11" height="16.99" fill="#ff3f3f"/>
<rect x="733.91" y="646.50" width="56.11" height="16.99" fill="#a00020"/>
<rect x="677.80" y="663.50" width="56.11" height="16.99" fill="#ff3f3f"/>
<rect x="733.91" y="663.50" width="56.11" height="16.99" fill="#ff3f3f"/>
<rect x="677.80" y="680.49" width="56.11" height="16.99" fill="#ff3f3f"/>
<rect x="733.91" y="680.49" width="56.11" height="16.99" fill="#fef0bf"/>
<rect x="677.80" y="697.48" width="56.11" height="16.99" fill="#ff3f3f"/>
<rect x="733.91" y="697.48" width="56.11" height="16.99" fill="#ffffff"/>
<rect x="677.80" y="714.47" width="56.11" height="16.99" fill="#fdaa72"/>
<rect x="733.91" y="714.47" width="56.11" height="16.99" fill="#a00020"/>
<rect x="677.80" y="731.47" width="56.11" height="16.99" fill="#fdaa72"/>
<rect x="733.91" y="731.47" width="56.11" height="16.99" fill="#ff3f3f"/>
<rect x="677.80" y="748.46" width="56.11" height="16.99" fill="#ff3f3f"/>
<rect x="733.91" y="748.46" width="56.11" height="16.99" fill="#a00020"/>
<rect x="677.80" y="765.45" width="56.11" height="16.99" fill="#ff3f3f"/>
<rect x="733.91" y="765.45" width="56.11" height="16.99" fill="#ff3f3f"/>
<rect x="677.80" y="782.45" width="56.11" height="16.99" fill="#ff3f3f"/>
<rect x="733.91" y="782.45" width="56.11" height="16.99" fill="#ff3f3f"/>
<rect x="677.80" y="799.44" width="56.11" height="16.99" fill="#fdaa72"/>
<rect x="733.91" y="799.44" width="56.11" height="16.99" fill="#ff3f3f"/>
<rect x="677.80" y="816.43" width="56.11" height="16.99" fill="#ff3f3f"/>
<rect x="733.91" y="816.43" width="56.11" height="16.99" fill="#fdaa72"/>
<rect x="677.80" y="833.42" width="56.11" height="16.99" fill="#ff3f3f"/>
<rect x="733.91" y="833.42" width="56.11" height="16.99" fill="#fdaa72"/>
<rect x="677.80" y="850.42" width="56.11" height="16.99" fill="#ff3f3f"/>
<rect x="733.91" y="850.42" width="56.11" height="16.99" fill="#ffffff"/>
<rect x="677.80" y="867.41" width="56.11" height="16.99" fill="#ff3f3f"/>
<rect x="733.91" y="867.41" width="56.11" height="16.99" fill="#ff3f3f"/>
<rect x="677.80" y="884.40" width="56.11" height="16.99" fill="#ff3f3f"/>
<rect x="733.91" y="884.40" width="56.11" height="16.99" fill="#fdaa72"/>
<rect x="677.80" y="901.40" width="56.11" height="16.99" fill="#ff3f3f"/>
<rect x="733.91" y="901.40" width="56.11" height="16.99" fill="#a00020"/>
<rect x="677.80" y="389.70" width="56.11" height="18.90" fill="#ff3f3f"/>
<rect x="733.91" y="389.70" width="56.11" height="18.90" fill="#ff3f3f"/>
<rect x="790.02" y="408.60" width="56.11" height="16.99" fill="#ffffff"/>
<rect x="846.13" y="408.60" width="56.11" height="16.99" fill="#a00020"/>
<rect x="790.02" y="425.59" width="56.11" height="16.99" fill="#fdaa72"/>
<rect x="846.13" y="425.59" width="56.11" height="16.99" fill="#fdaa72"/>
<rect x="790.02" y="442.59" width="56.11" height="16.99" fill="#ff3f3f"/>
<rect x="846.13" y="442.59" width="56.11" height="16.99" fill="#ff3f3f"/>
<rect x="790.02" y="459.58" width="56.11" height="16.99" fill="#ff3f3f"/>
<rect x="846.13" y="459.58" width="56.11" height="16.99" fill="#fef0bf"/>
<rect x="790.02" y="476.57" width="56.11" height="16.99" fill="#fdaa72"/>
<rect x="846.13" y="476.57" width="56.11" height="16.99" fill="#fdaa72"/>
<rect x="790.02" y="493.56" width="56.11" height="16.99" fill="#ffffff"/>
<rect x="846.13" y="493.56" width="56.11" height="16.99" fill="#a00020"/>
<rect x="790.02" y="510.56" width="56.11" height="16.99" fill="#ff3f3f"/>
<rect x="846.13" y="510.56" width="56.11" height="16.99" fill="#fdaa72"/>
<rect x="790.02" y="527.55" width="56.11" height="16.99" fill="#ff3f3f"/>
<rect x="846.13" y="527.55" width="56.11" height="16.99" fill="#ff3f3f"/>
<rect x="790.02" y="544.54" width="56.11" height="16.99" fill="#ff3f3f"/>
<rect x="846.13" y="544.54" width="56.11" height="16.99" fill="#a00020"/>
<rect x="790.02" y="561.54" width="56.11" height="16.99" fill="#fdaa72"/>
<rect x="846.13" y="561.54" width="56.11" height="16.99" fill="#a00020"/>
<rect x="790.02" y="578.53" width="56.11" height="16.99" fill="#ff3f3f"/>
<rect x="846.13" y="578.53" width="56.11" height="16.99" fill="#ff3f3f"/>
<rect x="790.02" y="595.52" width="56.11" height="16.99" fill="#fdaa72"/>
<rect x="846.13" y="595.52" width="56.11" height="16.99" fill="#ff3f3f"/>
<rect x="790.02" y="612.52" width="56.11" height="16.99" fill="#fdaa72"/>
<rect x="846.13" y="612.52" width="56.11" height="16.99" fill="#ff3f3f"/>
<rect x="790.02" y="629.51" width="56.11" height="16.99" fill="#fdaa72"/>
<rect x="846.13" y="629.51" width="56.11" height="16.99" fill="#fdaa72"/>
<rect x="790.02" y="646.50" width="56.11" height="16.99" fill="#fdaa72"/>
<rect x="846.13" y="646.50" width="56.11" height="16.99" fill="#a00020"/>
<rect x="790.02" y="663.50" width="56.11" height="16.99" fill="#ff3f3f"/>
<rect x="846.13" y="663.50" width="56.11" height="16.99" fill="#a00020"/>
<rect x="790.02" y="680.49" width="56.11" height="16.99" fill="#fdaa72"/>
<rect x="846.13" y="680.49" width="56.11" height="16.99" fill="#fdaa72"/>
<rect x="790.02" y="697.48" width="56.11" height="16.99" fill="#ff3f3f"/>
<rect x="846.13" y="697.48" width="56.11" height="16.99" fill="#ff3f3f"/>
<rect x="790.02" y="714.47" width="56.11" height="16.99" fill="#fdaa72"/>
<rect x="846.13" y="714.47" width="56.11" height="16.99" fill="#fdaa72"/>
<rect x="790.02" y="731.47" width="56.11" height="16.99" fill="#fef0bf"/>
<rect x="846.13" y="731.47" width="56.11" height="16.99" fill="#a00020"/>
<rect x="790.02" y="748.46" width="56.11" height="16.99" fill="#fdaa72"/>
<rect x="846.13" y="748.46" width="56.11" height="16.99" fill="#a00020"/>
<rect x="790.02" y="765.45" width="56.11" height="16.99" fill="#ff3f3f"/>
<rect x="846.13" y="765.45" width="56.11" height="16.99" fill="#a00020"/>
<rect x="790.02" y="782.45" width="56.11" height="16.99" fill="#ff3f3f"/>
<rect x="846.13" y="782.45" width="56.11" height="16.99" fill="#ff3f3f"/>
<rect x="790.02" y="799.44" width="56.11" height="16.99" fill="#ff3f3f"/>
<rect x="846.13" y="799.44" width="56.11" height="16.99" fill="#fdaa72"/>
<rect x="790.02" y="816.43" width="56.11" height="16.99" fill="#ffffff"/>
<rect x="846.13" y="816.43" width="56.11" height="16.99" fill="#a00020"/>
<rect x="790.02" y="833.42" width="56.11" height="16.99" fill="#fdaa72"/>
<rect x="846.13" y="833.42" width="56.11" height="16.99" fill="#ff3f3f"/>
<rect x="790.02" y="850.42" width="56.11" height="16.99" fill="#fdaa72"/>
<rect x="846.13" y="850.42" width="56.11" height="16.99" fill="#ff3f3f"/>
<rect x="790.02" y="867.41" width="56.11" height="16.99" fill="#fdaa72"/>
<rect x="846.13" y="867.41" width="56.11" height="16.99" fill="#a00020"/>
<rect x="790.02" y="884.40" width="56.11" height="16.99" fill="#ff3f3f"/>
<rect x="846.13" y="884.40" width="56.11" height="16.99" fill="#a00020"/>
<rect x="790.02" y="901.40" width="56.11" height="16.99" fill="#ff3f3f"/>
<rect x="846.13" y="901.40" width="56.11" height="16.99" fill="#ff3f3f"/>
<rect x="790.02" y="389.70" width="56.11" height="18.90" fill="#fdaa72"/>
<rect x="846.13" y="389.70" width="56.11" height="18.90" fill="#ff3f3f"/>
<rect x="902.24" y="408.60" width="56.11" height="16.99" fill="#73d0fc"/>
<rect x="958.35" y="408.60" width="56.11" height="16.99" fill="#ffffff"/>
<rect x="902.24" y="425.59" width="56.11" height="16.99" fill="#fdaa72"/>
<rect x="958.35" y="425.59" width="56.11" height="16.99" fill="#ff3f3f"/>
<rect x="902.24" y="442.59" width="56.11" height="16.99" fill="#ff3f3f"/>
<rect x="958.35" y="442.59" width="56.11" height="16.99" fill="#fdaa72"/>
<rect x="902.24" y="459.58" width="56.11" height="16.99" fill="#ff3f3f"/>
<rect x="958.35" y="459.58" width="56.11" height="16.99" fill="#fdaa72"/>
<rect x="902.24" y="476.57" width="56.11" height="16.99" fill="#fef0bf"/>
<rect x="958.35" y="476.57" width="56.11" height="16.99" fill="#ff3f3f"/>
<rect x="902.24" y="493.56" width="56.11" height="16.99" fill="#ffffff"/>
<rect x="958.35" y="493.56" width="56.11" height="16.99" fill="#ff3f3f"/>
<rect x="902.24" y="510.56" width="56.11" height="16.99" fill="#fdaa72"/>
<rect x="958.35" y="510.56" width="56.11" height="16.99" fill="#fef0bf"/>
<rect x="902.24" y="527.55" width="56.11" height="16.99" fill="#fef0bf"/>
<rect x="958.35" y="527.55" width="56.11" height="16.99" fill="#ff3f3f"/>
<rect x="902.24" y="544.54" width="56.11" height="16.99" fill="#ffffff"/>
<rect x="958.35" y="544.54" width="56.11" height="16.99" fill="#a00020"/>
<rect x="902.24" y="561.54" width="56.11" height="16.99" fill="#fdaa72"/>
<rect x="958.35" y="561.54" width="56.11" height="16.99" fill="#fef0bf"/>
<rect x="902.24" y="578.53" width="56.11" height="16.99" fill="#ff3f3f"/>
<rect x="958.35" y="578.53" width="56.11" height="16.99" fill="#ff3f3f"/>
<rect x="902.24" y="595.52" width="56.11" height="16.99" fill="#ffffff"/>
<rect x="958.35" y="595.52" width="56.11" height="16.99" fill="#fdaa72"/>
<rect x="902.24" y="612.52" width="56.11" height="16.99" fill="#ffffff"/>
<rect x="958.35" y="612.52" width="56.11" height="16.99" fill="#ff3f3f"/>
<rect x="902.24" y="629.51" width="56.11" height="16.99" fill="#fef0bf"/>
<rect x="958.35" y="629.51" width="56.11" height="16.99" fill="#fef0bf"/>
<rect x="902.24" y="646.50" width="56.11" height="16.99" fill="#bcf6fc"/>
<rect x="958.35" y="646.50" width="56.11" height="16.99" fill="#ff3f3f"/>
<rect x="902.24" y="663.50" width="56.11" height="16.99" fill="#a00020"/>
<rect x="958.35" y="663.50" width="56.11" height="16.99" fill="#ff3f3f"/>
<rect x="902.24" y="680.49" width="56.11" height="16.99" fill="#ffffff"/>
<rect x="958.35" y="680.49" width="56.11" height="16.99" fill="#ff3f3f"/>
<rect x="902.24" y="697.48" width="56.11" height="16.99" fill="#a00020"/>
<rect x="958.35" y="697.48" width="56.11" height="16.99" fill="#a00020"/>
<rect x="902.24" y="714.47" width="56.11" height="16.99" fill="#fdaa72"/>
<rect x="958.35" y="714.47" width="56.11" height="16.99" fill="#fdaa72"/>
<rect x="902.24" y="731.47" width="56.11" height="16.99" fill="#ffffff"/>
<rect x="958.35" y="731.47" width="56.11" height="16.99" fill="#fef0bf"/>
<rect x="902.24" y="748.46" width="56.11" height="16.99" fill="#fef0bf"/>
<rect x="958.35" y="748.46" width="56.11" height="16.99" fill="#ff3f3f"/>
<rect x="902.24" y="765.45" width="56.11" height="16.99" fill="#fdaa72"/>
<rect x="958.35" y="765.45" width="56.11" height="16.99" fill="#ff3f3f"/>
<rect x="902.24" y="782.45" width="56.11" height="16.99" fill="#fef0bf"/>
<rect x="958.35" y="782.45" width="56.11" height="16.99" fill="#ff3f3f"/>
<rect x="902.24" y="799.44" width="56.11" height="16.99" fill="#ffffff"/>
<rect x="958.35" y="799.44" width="56.11" height="16.99" fill="#fdaa72"/>
<rect x="902.24" y="816.43" width="56.11" height="16.99" fill="#fdaa72"/>
<rect x="958.35" y="816.43" width="56.11" height="16.99" fill="#ff3f3f"/>
<rect x="902.24" y="833.42" width="56.11" height="16.99" fill="#ff3f3f"/>
<rect x="958.35" y="833.42" width="56.11" height="16.99" fill="#ff3f3f"/>
<rect x="902.24" y="850.42" width="56.11" height="16.99" fill="#fdaa72"/>
<rect x="958.35" y="850.42" width="56.11" height="16.99" fill="#ff3f3f"/>
<rect x="902.24" y="867.41" width="56.11" height="16.99" fill="#bcf6fc"/>
<rect x="958.35" y="867.41" width="56.11" height="16.99" fill="#ff3f3f"/>
<rect x="902.24" y="884.40" width="56.11" height="16.99" fill="#ff3f3f"/>
<rect x="958.35" y="884.40" width="56.11" height="16.99" fill="#fdaa72"/>
<rect x="902.24" y="901.40" width="56.11" height="16.99" fill="#ffffff"/>
<rect x="958.35" y="901.40" width="56.11" height="16.99" fill="#a00020"/>
<rect x="902.24" y="389.70" width="56.11" height="18.90" fill="#fdaa72"/>
<rect x="958.35" y="389.70" width="56.11" height="18.90" fill="#ff3f3f"/>
<rect x="1014.46" y="408.60" width="56.11" height="16.99" fill="#73d0fc"/>
<rect x="1070.57" y="408.60" width="56.11" height="16.99" fill="#73d0fc"/>
<rect x="1014.46" y="425.59" width="56.11" height="16.99" fill="#ffffff"/>
<rect x="1070.57" y="425.59" width="56.11" height="16.99" fill="#fef0bf"/>
<rect x="1014.46" y="442.59" width="56.11" height="16.99" fill="#fdaa72"/>
<rect x="1070.57" y="442.59" width="56.11" height="16.99" fill="#fdaa72"/>
<rect x="1014.46" y="459.58" width="56.11" height="16.99" fill="#ffffff"/>
<rect x="1070.57" y="459.58" width="56.11" height="16.99" fill="#ff3f3f"/>
<rect x="1014.46" y="476.57" width="56.11" height="16.99" fill="#ffffff"/>
<rect x="1070.57" y="476.57" width="56.11" height="16.99" fill="#fef0bf"/>
<rect x="1014.46" y="493.56" width="56.11" height="16.99" fill="#fdaa72"/>
<rect x="1070.57" y="493.56" width="56.11" height="16.99" fill="#ffffff"/>
<rect x="1014.46" y="510.56" width="56.11" height="16.99" fill="#fdaa72"/>
<rect x="1070.57" y="510.56" width="56.11" height="16.99" fill="#ff3f3f"/>
<rect x="1014.46" y="527.55" width="56.11" height="16.99" fill="#fef0bf"/>
<rect x="1070.57" y="527.55" width="56.11" height="16.99" fill="#ffffff"/>
<rect x="1014.46" y="544.54" width="56.11" height="16.99" fill="#fdaa72"/>
<rect x="1070.57" y="544.54" width="56.11" height="16.99" fill="#ff3f3f"/>
<rect x="1014.46" y="561.54" width="56.11" height="16.99" fill="#ff3f3f"/>
<rect x="1070.57" y="561.54" width="56.11" height="16.99" fill="#ff3f3f"/>
<rect x="1014.46" y="578.53" width="56.11" height="16.99" fill="#fdaa72"/>
<rect x="1070.57" y="578.53" width="56.11" height="16.99" fill="#fdaa72"/>
<rect x="1014.46" y="595.52" width="56.11" height="16.99" fill="#73d0fc"/>
<rect x="1070.57" y="595.52" width="56.11" height="16.99" fill="#fef0bf"/>
<rect x="1014.46" y="612.52" width="56.11" height="16.99" fill="#ffffff"/>
<rect x="1070.57" y="612.52" width="56.11" height="16.99" fill="#fef0bf"/>
<rect x="1014.46" y="629.51" width="56.11" height="16.99" fill="#fef0bf"/>
<rect x="1070.57" y="629.51" width="56.11" height="16.99" fill="#fdaa72"/>
<rect x="1014.46" y="646.50" width="56.11" height="16.99" fill="#3f86f6"/>
<rect x="1070.57" y="646.50" width="56.11" height="16.99" fill="#bcf6fc"/>
<rect x="1014.46" y="663.50" width="56.11" height="16.99" fill="#fef0bf"/>
<rect x="1070.57" y="663.50" width="56.11" height="16.99" fill="#a00020"/>
<rect x="1014.46" y="680.49" width="56.11" height="16.99" fill="#73d0fc"/>
<rect x="1070.57" y="680.49" width="56.11" height="16.99" fill="#ffffff"/>
<rect x="1014.46" y="697.48" width="56.11" height="16.99" fill="#fdaa72"/>
<rect x="1070.57" y="697.48" width="56.11" height="16.99" fill="#a00020"/>
<rect x="1014.46" y="714.47" width="56.11" height="16.99" fill="#ffffff"/>
<rect x="1070.57" y="714.47" width="56.11" height="16.99" fill="#fef0bf"/>
<rect x="1014.46" y="731.47" width="56.11" height="16.99" fill="#fef0bf"/>
<rect x="1070.57" y="731.47" width="56.11" height="16.99" fill="#fef0bf"/>
<rect x="1014.46" y="748.46" width="56.11" height="16.99" fill="#ffffff"/>
<rect x="1070.57" y="748.46" width="56.11" height="16.99" fill="#ff3f3f"/>
<rect x="1014.46" y="765.45" width="56.11" height="16.99" fill="#3f86f6"/>
<rect x="1070.57" y="765.45" width="56.11" height="16.99" fill="#a00020"/>
<rect x="1014.46" y="782.45" width="56.11" height="16.99" fill="#2500d6"/>
<rect x="1070.57" y="782.45" width="56.11" height="16.99" fill="#ff3f3f"/>
<rect x="1014.46" y="799.44" width="56.11" height="16.99" fill="#fdaa72"/>
<rect x="1070.57" y="799.44" width="56.11" height="16.99" fill="#fdaa72"/>
<rect x="1014.46" y="816.43" width="56.11" height="16.99" fill="#bcf6fc"/>
<rect x="1070.57" y="816.43" width="56.11" height="16.99" fill="#fef0bf"/>
<rect x="1014.46" y="833.42" width="56.11" height="16.99" fill="#fef0bf"/>
<rect x="1070.57" y="833.42" width="56.11" height="16.99" fill="#ff3f3f"/>
<rect x="1014.46" y="850.42" width="56.11" height="16.99" fill="#fdaa72"/>
<rect x="1070.57" y="850.42" width="56.11" height="16.99" fill="#ff3f3f"/>
<rect x="1014.46" y="867.41" width="56.11" height="16.99" fill="#2500d6"/>
<rect x="1070.57" y="867.41" width="56.11" height="16.99" fill="#ffffff"/>
<rect x="1014.46" y="884.40" width="56.11" height="16.99" fill="#ffffff"/>
<rect x="1070.57" y="884.40" width="56.11" height="16.99" fill="#a00020"/>
<rect x="1014.46" y="901.40" width="56.11" height="16.99" fill="#ffffff"/>
<rect x="1070.57" y="901.40" width="56.11" height="16.99" fill="#fdaa72"/>
<rect x="1014.46" y="389.70" width="56.11" height="18.90" fill="#ffffff"/>
<rect x="1070.57" y="389.70" width="56.11" height="18.90" fill="#fdaa72"/>
<rect x="1126.68" y="408.60" width="56.11" height="16.99" fill="#ffffff"/>
<rect x="1182.79" y="408.60" width="56.11" height="16.99" fill="#2500d6"/>
<rect x="1126.68" y="425.59" width="56.11" height="16.99" fill="#fef0bf"/>
<rect x="1182.79" y="425.59" width="56.11" height="16.99" fill="#fef0bf"/>
<rect x="1126.68" y="442.59" width="56.11" height="16.99" fill="#ffffff"/>
<rect x="1182.79" y="442.59" width="56.11" height="16.99" fill="#fdaa72"/>
<rect x="1126.68" y="459.58" width="56.11" height="16.99" fill="#fef0bf"/>
<rect x="1182.79" y="459.58" width="56.11" height="16.99" fill="#fef0bf"/>
<rect x="1126.68" y="476.57" width="56.11" height="16.99" fill="#fdaa72"/>
<rect x="1182.79" y="476.57" width="56.11" height="16.99" fill="#ffffff"/>
<rect x="1126.68" y="493.56" width="56.11" height="16.99" fill="#bcf6fc"/>
<rect x="1182.79" y="493.56" width="56.11" height="16.99" fill="#fef0bf"/>
<rect x="1126.68" y="510.56" width="56.11" height="16.99" fill="#ff3f3f"/>
<rect x="1182.79" y="510.56" width="56.11" height="16.99" fill="#ffffff"/>
<rect x="1126.68" y="527.55" width="56.11" height="16.99" fill="#fdaa72"/>
<rect x="1182.79" y="527.55" width="56.11" height="16.99" fill="#fef0bf"/>
<rect x="1126.68" y="544.54" width="56.11" height="16.99" fill="#fef0bf"/>
<rect x="1182.79" y="544.54" width="56.11" height="16.99" fill="#ffffff"/>
<rect x="1126.68" y="561.54" width="56.11" height="16.99" fill="#fef0bf"/>
<rect x="1182.79" y="561.54" width="56.11" height="16.99" fill="#ff3f3f"/>
<rect x="1126.68" y="578.53" width="56.11" height="16.99" fill="#fef0bf"/>
<rect x="1182.79" y="578.53" width="56.11" height="16.99" fill="#ff3f3f"/>
<rect x="1126.68" y="595.52" width="56.11" height="16.99" fill="#3f86f6"/>
<rect x="1182.79" y="595.52" width="56.11" height="16.99" fill="#73d0fc"/>
<rect x="1126.68" y="612.52" width="56.11" height="16.99" fill="#bcf6fc"/>
<rect x="1182.79" y="612.52" width="56.11" height="16.99" fill="#ffffff"/>
<rect x="1126.68" y="629.51" width="56.11" height="16.99" fill="#ffffff"/>
<rect x="1182.79" y="629.51" width="56.11" height="16.99" fill="#fdaa72"/>
<rect x="1126.68" y="646.50" width="56.11" height="16.99" fill="#bcf6fc"/>
<rect x="1182.79" y="646.50" width="56.11" height="16.99" fill="#2500d6"/>
<rect x="1126.68" y="663.50" width="56.11" height="16.99" fill="#fef0bf"/>
<rect x="1182.79" y="663.50" width="56.11" height="16.99" fill="#fdaa72"/>
<rect x="1126.68" y="680.49" width="56.11" height="16.99" fill="#ffffff"/>
<rect x="1182.79" y="680.49" width="56.11" height="16.99" fill="#ffffff"/>
<rect x="1126.68" y="697.48" width="56.11" height="16.99" fill="#fef0bf"/>
<rect x="1182.79" y="697.48" width="56.11" height="16.99" fill="#a00020"/>
<rect x="1126.68" y="714.47" width="56.11" height="16.99" fill="#fef0bf"/>
<rect x="1182.79" y="714.47" width="56.11" height="16.99" fill="#fef0bf"/>
<rect x="1126.68" y="731.47" width="56.11" height="16.99" fill="#fef0bf"/>
<rect x="1182.79" y="731.47" width="56.11" height="16.99" fill="#ffffff"/>
<rect x="1126.68" y="748.46" width="56.11" height="16.99" fill="#ffffff"/>
<rect x="1182.79" y="748.46" width="56.11" height="16.99" fill="#ffffff"/>
<rect x="1126.68" y="765.45" width="56.11" height="16.99" fill="#3f86f6"/>
<rect x="1182.79" y="765.45" width="56.11" height="16.99" fill="#fef0bf"/>
<rect x="1126.68" y="782.45" width="56.11" height="16.99" fill="#3f86f6"/>
<rect x="1182.79" y="782.45" width="56.11" height="16.99" fill="#ffffff"/>
<rect x="1126.68" y="799.44" width="56.11" height="16.99" fill="#a00020"/>
<rect x="1182.79" y="799.44" width="56.11" height="16.99" fill="#fef0bf"/>
<rect x="1126.68" y="816.43" width="56.11" height="16.99" fill="#ffffff"/>
<rect x="1182.79" y="816.43" width="56.11" height="16.99" fill="#fdaa72"/>
<rect x="1126.68" y="833.42" width="56.11" height="16.99" fill="#fdaa72"/>
<rect x="1182.79" y="833.42" width="56.11" height="16.99" fill="#ff3f3f"/>
<rect x="1126.68" y="850.42" width="56.11" height="16.99" fill="#fdaa72"/>
<rect x="1182.79" y="850.42" width="56.11" height="16.99" fill="#fdaa72"/>
<rect x="1126.68" y="867.41" width="56.11" height="16.99" fill="#bcf6fc"/>
<rect x="1182.79" y="867.41" width="56.11" height="16.99" fill="#2500d6"/>
<rect x="1126.68" y="884.40" width="56.11" height="16.99" fill="#fef0bf"/>
<rect x="1182.79" y="884.40" width="56.11" height="16.99" fill="#ff3f3f"/>
<rect x="1126.68" y="901.40" width="56.11" height="16.99" fill="#bcf6fc"/>
<rect x="1182.79" y="901.40" width="56.11" height="16.99" fill="#ffffff"/>
<rect x="1126.68" y="389.70" width="56.11" height="18.90" fill="#fef0bf"/>
<rect x="1182.79" y="389.70" width="56.11" height="18.90" fill="#ffffff"/>
<line x1="116.7" x2="1238.9" y1="408.60" y2="408.60" stroke="rgba(60,85,115,0.38)" stroke-width="1"/>
<line x1="116.7" x2="1238.9" y1="425.59" y2="425.59" stroke="rgba(60,85,115,0.38)" stroke-width="1"/>
<line x1="116.7" x2="1238.9" y1="442.59" y2="442.59" stroke="rgba(60,85,115,0.38)" stroke-width="1"/>
<line x1="116.7" x2="1238.9" y1="459.58" y2="459.58" stroke="rgba(60,85,115,0.38)" stroke-width="1"/>
<line x1="116.7" x2="1238.9" y1="476.57" y2="476.57" stroke="rgba(60,85,115,0.38)" stroke-width="1"/>
<line x1="116.7" x2="1238.9" y1="493.56" y2="493.56" stroke="rgba(60,85,115,0.38)" stroke-width="1"/>
<line x1="116.7" x2="1238.9" y1="510.56" y2="510.56" stroke="rgba(60,85,115,0.38)" stroke-width="1"/>
<line x1="116.7" x2="1238.9" y1="527.55" y2="527.55" stroke="rgba(60,85,115,0.38)" stroke-width="1"/>
<line x1="116.7" x2="1238.9" y1="544.54" y2="544.54" stroke="rgba(60,85,115,0.38)" stroke-width="1"/>
<line x1="116.7" x2="1238.9" y1="561.54" y2="561.54" stroke="rgba(60,85,115,0.38)" stroke-width="1"/>
<line x1="116.7" x2="1238.9" y1="578.53" y2="578.53" stroke="rgba(60,85,115,0.38)" stroke-width="1"/>
<line x1="116.7" x2="1238.9" y1="595.52" y2="595.52" stroke="rgba(60,85,115,0.38)" stroke-width="1"/>
<line x1="116.7" x2="1238.9" y1="612.52" y2="612.52" stroke="rgba(60,85,115,0.38)" stroke-width="1"/>
<line x1="116.7" x2="1238.9" y1="629.51" y2="629.51" stroke="rgba(60,85,115,0.38)" stroke-width="1"/>
<line x1="116.7" x2="1238.9" y1="646.50" y2="646.50" stroke="rgba(60,85,115,0.38)" stroke-width="1"/>
<line x1="116.7" x2="1238.9" y1="663.50" y2="663.50" stroke="rgba(60,85,115,0.38)" stroke-width="1"/>
<line x1="116.7" x2="1238.9" y1="680.49" y2="680.49" stroke="rgba(60,85,115,0.38)" stroke-width="1"/>
<line x1="116.7" x2="1238.9" y1="697.48" y2="697.48" stroke="rgba(60,85,115,0.38)" stroke-width="1"/>
<line x1="116.7" x2="1238.9" y1="714.47" y2="714.47" stroke="rgba(60,85,115,0.38)" stroke-width="1"/>
<line x1="116.7" x2="1238.9" y1="731.47" y2="731.47" stroke="rgba(60,85,115,0.38)" stroke-width="1"/>
<line x1="116.7" x2="1238.9" y1="748.46" y2="748.46" stroke="rgba(60,85,115,0.38)" stroke-width="1"/>
<line x1="116.7" x2="1238.9" y1="765.45" y2="765.45" stroke="rgba(60,85,115,0.38)" stroke-width="1"/>
<line x1="116.7" x2="1238.9" y1="782.45" y2="782.45" stroke="rgba(60,85,115,0.38)" stroke-width="1"/>
<line x1="116.7" x2="1238.9" y1="799.44" y2="799.44" stroke="rgba(60,85,115,0.38)" stroke-width="1"/>
<line x1="116.7" x2="1238.9" y1="816.43" y2="816.43" stroke="rgba(60,85,115,0.38)" stroke-width="1"/>
<line x1="116.7" x2="1238.9" y1="833.42" y2="833.42" stroke="rgba(60,85,115,0.38)" stroke-width="1"/>
<line x1="116.7" x2="1238.9" y1="850.42" y2="850.42" stroke="rgba(60,85,115,0.38)" stroke-width="1"/>
<line x1="116.7" x2="1238.9" y1="867.41" y2="867.41" stroke="rgba(60,85,115,0.38)" stroke-width="1"/>
<line x1="116.7" x2="1238.9" y1="884.40" y2="884.40" stroke="rgba(60,85,115,0.38)" stroke-width="1"/>
<line x1="116.7" x2="1238.9" y1="901.40" y2="901.40" stroke="rgba(60,85,115,0.38)" stroke-width="1"/>
<line x1="116.7" x2="1238.9" y1="389.70" y2="389.70" stroke="rgba(60,85,115,0.38)" stroke-width="1"/>
<line x1="172.81" x2="172.81" y1="389.7" y2="918.4" stroke="rgba(60,85,115,0.38)" stroke-width="1"/>
<line x1="285.03" x2="285.03" y1="389.7" y2="918.4" stroke="rgba(60,85,115,0.38)" stroke-width="1"/>
<line x1="397.25" x2="397.25" y1="389.7" y2="918.4" stroke="rgba(60,85,115,0.38)" stroke-width="1"/>
<line x1="509.47" x2="509.47" y1="389.7" y2="918.4" stroke="rgba(60,85,115,0.38)" stroke-width="1"/>
<line x1="621.69" x2="621.69" y1="389.7" y2="918.4" stroke="rgba(60,85,115,0.38)" stroke-width="1"/>
<line x1="733.91" x2="733.91" y1="389.7" y2="918.4" stroke="rgba(60,85,115,0.38)" stroke-width="1"/>
<line x1="846.13" x2="846.13" y1="389.7" y2="918.4" stroke="rgba(60,85,115,0.38)" stroke-width="1"/>
<line x1="958.35" x2="958.35" y1="389.7" y2="918.4" stroke="rgba(60,85,115,0.38)" stroke-width="1"/>
<line x1="1070.57" x2="1070.57" y1="389.7" y2="918.4" stroke="rgba(60,85,115,0.38)" stroke-width="1"/>
<line x1="1182.79" x2="1182.79" y1="389.7" y2="918.4" stroke="rgba(60,85,115,0.38)" stroke-width="1"/>
<defs><clipPath id="tc"><rect x="116.7" y="389.7" width="1122.2" height="528.7"/><rect x="116.7" y="408.6" width="1122.2" height="509.79999999999995"/></clipPath><clipPath id="mc"><rect x="116.7" y="389.7" width="1122.2" height="18.600000000000033"/></clipPath></defs>
<g clip-path="url(#mc)">
<g font-weight="bold" text-anchor="middle" fill="#fff" stroke="#fff" stroke-opacity="0.8" stroke-width="2.2" stroke-linejoin="round"><text x="203.5" y="408.1" font-size="19.2">67</text><text x="259.6" y="408.1" font-size="19.2">46</text><text x="315.7" y="408.1" font-size="19.2">71</text><text x="371.8" y="408.1" font-size="19.2">43</text><text x="427.9" y="408.1" font-size="19.2">69</text><text x="484.0" y="408.1" font-size="19.2">46</text><text x="540.1" y="408.1" font-size="19.2">73</text><text x="596.2" y="408.1" font-size="19.2">47</text><text x="652.3" y="408.1" font-size="19.2">70</text><text x="708.5" y="408.1" font-size="19.2">47</text><text x="764.6" y="408.1" font-size="19.2">72</text><text x="820.7" y="408.1" font-size="19.2">45</text><text x="876.8" y="408.1" font-size="19.2">74</text><text x="932.9" y="408.1" font-size="19.2">42</text><text x="989.0" y="408.1" font-size="19.2">72</text><text x="1045.1" y="408.1" font-size="19.2">36</text><text x="1101.2" y="408.1" font-size="19.2">68</text><text x="1157.3" y="408.1" font-size="19.2">39</text><text x="1213.4" y="408.1" font-size="19.2">63</text></g>
<g font-weight="bold" text-anchor="middle" fill="#2f4f4f" stroke="#2f4f4f" stroke-width="0.4"><text x="203.5" y="408.1" font-size="19.2">67</text><text x="259.6" y="408.1" font-size="19.2">46</text><text x="315.7" y="408.1" font-size="19.2">71</text><text x="371.8" y="408.1" font-size="19.2">43</text><text x="427.9" y="408.1" font-size="19.2">69</text><text x="484.0" y="408.1" font-size="19.2">46</text><text x="540.1" y="408.1" font-size="19.2">73</text><text x="596.2" y="408.1" font-size="19.2">47</text><text x="652.3" y="408.1" font-size="19.2">70</text><text x="708.5" y="408.1" font-size="19.2">47</text><text x="764.6" y="408.1" font-size="19.2">72</text><text x="820.7" y="408.1" font-size="19.2">45</text><text x="876.8" y="408.1" font-size="19.2">74</text><text x="932.9" y="408.1" font-size="19.2">42</text><text x="989.0" y="408.1" font-size="19.2">72</text><text x="1045.1" y="408.1" font-size="19.2">36</text><text x="1101.2" y="408.1" font-size="19.2">68</text><text x="1157.3" y="408.1" font-size="19.2">39</text><text x="1213.4" y="408.1" font-size="19.2">63</text></g>
</g>
<g font-weight="bold" text-anchor="middle" fill="#fff" stroke="#fff" stroke-opacity="0.8" stroke-width="2.2" stroke-linejoin="round"><text x="203.0" y="423.2" font-size="14.8">66</text><text x="203.0" y="440.2" font-size="14.8">64</text><text x="203.0" y="457.2" font-size="14.8">68</text><text x="203.0" y="474.2" font-size="14.8">67</text><text x="203.0" y="491.2" font-size="14.8">67</text><text x="203.0" y="508.2" font-size="14.8">68</text><text x="203.0" y="525.2" font-size="14.8">66</text><text x="203.0" y="542.2" font-size="14.8">66</text><text x="203.0" y="559.1" font-size="14.8">66</text><text x="203.0" y="576.1" font-size="14.8">67</text><text x="203.0" y="593.1" font-size="14.8">66</text><text x="203.0" y="610.1" font-size="14.8">68</text><text x="203.0" y="627.1" font-size="14.8">68</text><text x="203.0" y="644.1" font-size="14.8">67</text><text x="203.0" y="661.1" font-size="14.8">68</text><text x="203.0" y="678.1" font-size="14.8">64</text><text x="203.0" y="695.1" font-size="14.8">67</text><text x="203.0" y="712.1" font-size="14.8">67</text><text x="203.0" y="729.1" font-size="14.8">68</text><text x="203.0" y="746.1" font-size="14.8">69</text><text x="203.0" y="763.1" font-size="14.8">67</text><text x="203.0" y="780.1" font-size="14.8">64</text><text x="203.0" y="797.0" font-size="14.8">67</text><text x="203.0" y="814.0" font-size="14.8">63</text><text x="203.0" y="831.0" font-size="14.8">66</text><text x="203.0" y="848.0" font-size="14.8">68</text><text x="203.0" y="865.0" font-size="14.8">67</text><text x="203.0" y="882.0" font-size="14.8">68</text><text x="203.0" y="899.0" font-size="14.8">67</text><text x="203.0" y="916.0" font-size="14.8">68</text><text x="259.1" y="423.2" font-size="14.8">45</text><text x="315.2" y="423.2" font-size="14.8">72</text><text x="259.1" y="440.2" font-size="14.8">45</text><text x="315.2" y="440.2" font-size="14.8">70</text><text x="259.1" y="457.2" font-size="14.8">46</text><text x="315.2" y="457.2" font-size="14.8">71</text><text x="259.1" y="474.2" font-size="14.8">49</text><text x="315.2" y="474.2" font-size="14.8">68</text><text x="259.1" y="491.2" font-size="14.8">47</text><text x="315.2" y="491.2" font-size="14.8">66</text><text x="259.1" y="508.2" font-size="14.8">44</text><text x="315.2" y="508.2" font-size="14.8">66</text><text x="259.1" y="525.2" font-size="14.8">43</text><text x="315.2" y="525.2" font-size="14.8">69</text><text x="259.1" y="542.2" font-size="14.8">46</text><text x="315.2" y="542.2" font-size="14.8">67</text><text x="259.1" y="559.1" font-size="14.8">49</text><text x="315.2" y="559.1" font-size="14.8">70</text><text x="259.1" y="576.1" font-size="14.8">44</text><text x="315.2" y="576.1" font-size="14.8">69</text><text x="259.1" y="593.1" font-size="14.8">46</text><text x="315.2" y="593.1" font-size="14.8">72</text><text x="259.1" y="610.1" font-size="14.8">47</text><text x="315.2" y="610.1" font-size="14.8">70</text><text x="259.1" y="627.1" font-size="14.8">46</text><text x="315.2" y="627.1" font-size="14.8">71</text><text x="259.1" y="644.1" font-size="14.8">44</text><text x="315.2" y="644.1" font-size="14.8">69</text><text x="259.1" y="661.1" font-size="14.8">44</text><text x="315.2" y="661.1" font-size="14.8">72</text><text x="259.1" y="678.1" font-size="14.8">46</text><text x="315.2" y="678.1" font-size="14.8">73</text><text x="259.1" y="695.1" font-size="14.8">44</text><text x="315.2" y="695.1" font-size="14.8">72</text><text x="259.1" y="712.1" font-size="14.8">44</text><text x="315.2" y="712.1" font-size="14.8">72</text><text x="259.1" y="729.1" font-size="14.8">45</text><text x="315.2" y="729.1" font-size="14.8">71</text><text x="259.1" y="746.1" font-size="14.8">46</text><text x="315.2" y="746.1" font-size="14.8">71</text><text x="259.1" y="763.1" font-size="14.8">46</text><text x="315.2" y="763.1" font-size="14.8">69</text><text x="259.1" y="780.1" font-size="14.8">46</text><text x="315.2" y="780.1" font-size="14.8">70</text><text x="259.1" y="797.0" font-size="14.8">46</text><text x="315.2" y="797.0" font-size="14.8">72</text><text x="259.1" y="814.0" font-size="14.8">47</text><text x="315.2" y="814.0" font-size="14.8">71</text><text x="259.1" y="831.0" font-size="14.8">48</text><text x="315.2" y="831.0" font-size="14.8">73</text><text x="259.1" y="848.0" font-size="14.8">42</text><text x="315.2" y="848.0" font-size="14.8">72</text><text x="259.1" y="865.0" font-size="14.8">47</text><text x="315.2" y="865.0" font-size="14.8">71</text><text x="259.1" y="882.0" font-size="14.8">47</text><text x="315.2" y="882.0" font-size="14.8">63</text><text x="259.1" y="899.0" font-size="14.8">45</text><text x="315.2" y="899.0" font-size="14.8">71</text><text x="259.1" y="916.0" font-size="14.8">45</text><text x="315.2" y="916.0" font-size="14.8">67</text><text x="371.3" y="423.2" font-size="14.8">43</text><text x="427.4" y="423.2" font-size="14.8">70</text><text x="371.3" y="440.2" font-size="14.8">39</text><text x="427.4" y="440.2" font-size="14.8">72</text><text x="371.3" y="457.2" font-size="14.8">44</text><text x="427.4" y="457.2" font-size="14.8">69</text><text x="371.3" y="474.2" font-size="14.8">42</text><text x="427.4" y="474.2" font-size="14.8">69</text><text x="371.3" y="491.2" font-size="14.8">40</text><text x="427.4" y="491.2" font-size="14.8">72</text><text x="371.3" y="508.2" font-size="14.8">39</text><text x="427.4" y="508.2" font-size="14.8">69</text><text x="371.3" y="525.2" font-size="14.8">43</text><text x="427.4" y="525.2" font-size="14.8">69</text><text x="371.3" y="542.2" font-size="14.8">44</text><text x="427.4" y="542.2" font-size="14.8">69</text><text x="371.3" y="559.1" font-size="14.8">48</text><text x="427.4" y="559.1" font-size="14.8">67</text><text x="371.3" y="576.1" font-size="14.8">38</text><text x="427.4" y="576.1" font-size="14.8">68</text><text x="371.3" y="593.1" font-size="14.8">40</text><text x="427.4" y="593.1" font-size="14.8">71</text><text x="371.3" y="610.1" font-size="14.8">41</text><text x="427.4" y="610.1" font-size="14.8">67</text><text x="371.3" y="627.1" font-size="14.8">25</text><text x="427.4" y="627.1" font-size="14.8">69</text><text x="371.3" y="644.1" font-size="14.8">41</text><text x="427.4" y="644.1" font-size="14.8">68</text><text x="371.3" y="661.1" font-size="14.8">39</text><text x="427.4" y="661.1" font-size="14.8">72</text><text x="371.3" y="678.1" font-size="14.8">46</text><text x="427.4" y="678.1" font-size="14.8">66</text><text x="371.3" y="695.1" font-size="14.8">47</text><text x="427.4" y="695.1" font-size="14.8">68</text><text x="371.3" y="712.1" font-size="14.8">43</text><text x="427.4" y="712.1" font-size="14.8">72</text><text x="371.3" y="729.1" font-size="14.8">38</text><text x="427.4" y="729.1" font-size="14.8">69</text><text x="371.3" y="746.1" font-size="14.8">45</text><text x="427.4" y="746.1" font-size="14.8">69</text><text x="371.3" y="763.1" font-size="14.8">44</text><text x="427.4" y="763.1" font-size="14.8">69</text><text x="371.3" y="780.1" font-size="14.8">38</text><text x="427.4" y="780.1" font-size="14.8">70</text><text x="371.3" y="797.0" font-size="14.8">44</text><text x="427.4" y="797.0" font-size="14.8">68</text><text x="371.3" y="814.0" font-size="14.8">45</text><text x="427.4" y="814.0" font-size="14.8">66</text><text x="371.3" y="831.0" font-size="14.8">46</text><text x="427.4" y="831.0" font-size="14.8">71</text><text x="371.3" y="848.0" font-size="14.8">43</text><text x="427.4" y="848.0" font-size="14.8">70</text><text x="371.3" y="865.0" font-size="14.8">27</text><text x="427.4" y="865.0" font-size="14.8">71</text><text x="371.3" y="882.0" font-size="14.8">33</text><text x="427.4" y="882.0" font-size="14.8">67</text><text x="371.3" y="899.0" font-size="14.8">41</text><text x="427.4" y="899.0" font-size="14.8">68</text><text x="371.3" y="916.0" font-size="14.8">41</text><text x="427.4" y="916.0" font-size="14.8">69</text><text x="483.5" y="423.2" font-size="14.8">48</text><text x="539.6" y="423.2" font-size="14.8">74</text><text x="483.5" y="440.2" font-size="14.8">37</text><text x="539.6" y="440.2" font-size="14.8">72</text><text x="483.5" y="457.2" font-size="14.8">45</text><text x="539.6" y="457.2" font-size="14.8">74</text><text x="483.5" y="474.2" font-size="14.8">47</text><text x="483.5" y="491.2" font-size="14.8">42</text><text x="539.6" y="491.2" font-size="14.8">72</text><text x="483.5" y="508.2" font-size="14.8">48</text><text x="483.5" y="525.2" font-size="14.8">47</text><text x="539.6" y="525.2" font-size="14.8">61</text><text x="483.5" y="542.2" font-size="14.8">42</text><text x="539.6" y="542.2" font-size="14.8">73</text><text x="483.5" y="559.1" font-size="14.8">45</text><text x="539.6" y="559.1" font-size="14.8">73</text><text x="483.5" y="576.1" font-size="14.8">45</text><text x="539.6" y="576.1" font-size="14.8">74</text><text x="483.5" y="593.1" font-size="14.8">43</text><text x="539.6" y="593.1" font-size="14.8">73</text><text x="483.5" y="610.1" font-size="14.8">45</text><text x="539.6" y="610.1" font-size="14.8">72</text><text x="483.5" y="627.1" font-size="14.8">46</text><text x="539.6" y="627.1" font-size="14.8">72</text><text x="483.5" y="644.1" font-size="14.8">44</text><text x="539.6" y="644.1" font-size="14.8">74</text><text x="483.5" y="661.1" font-size="14.8">47</text><text x="539.6" y="661.1" font-size="14.8">74</text><text x="483.5" y="678.1" font-size="14.8">42</text><text x="539.6" y="678.1" font-size="14.8">73</text><text x="483.5" y="695.1" font-size="14.8">48</text><text x="539.6" y="695.1" font-size="14.8">70</text><text x="483.5" y="712.1" font-size="14.8">45</text><text x="539.6" y="712.1" font-size="14.8">72</text><text x="483.5" y="729.1" font-size="14.8">48</text><text x="539.6" y="729.1" font-size="14.8">73</text><text x="483.5" y="746.1" font-size="14.8">46</text><text x="539.6" y="746.1" font-size="14.8">74</text><text x="483.5" y="763.1" font-size="14.8">46</text><text x="483.5" y="780.1" font-size="14.8">48</text><text x="539.6" y="780.1" font-size="14.8">73</text><text x="483.5" y="797.0" font-size="14.8">45</text><text x="539.6" y="797.0" font-size="14.8">73</text><text x="483.5" y="814.0" font-size="14.8">48</text><text x="483.5" y="831.0" font-size="14.8">44</text><text x="539.6" y="831.0" font-size="14.8">73</text><text x="483.5" y="848.0" font-size="14.8">42</text><text x="539.6" y="848.0" font-size="14.8">73</text><text x="483.5" y="865.0" font-size="14.8">36</text><text x="539.6" y="865.0" font-size="14.8">73</text><text x="483.5" y="882.0" font-size="14.8">44</text><text x="539.6" y="882.0" font-size="14.8">73</text><text x="483.5" y="899.0" font-size="14.8">42</text><text x="539.6" y="899.0" font-size="14.8">75</text><text x="483.5" y="916.0" font-size="14.8">47</text><text x="595.7" y="423.2" font-size="14.8">48</text><text x="651.8" y="423.2" font-size="14.8">72</text><text x="595.7" y="440.2" font-size="14.8">45</text><text x="651.8" y="440.2" font-size="14.8">73</text><text x="651.8" y="457.2" font-size="14.8">72</text><text x="595.7" y="474.2" font-size="14.8">45</text><text x="651.8" y="474.2" font-size="14.8">66</text><text x="595.7" y="491.2" font-size="14.8">39</text><text x="651.8" y="491.2" font-size="14.8">70</text><text x="651.8" y="508.2" font-size="14.8">67</text><text x="595.7" y="525.2" font-size="14.8">44</text><text x="651.8" y="525.2" font-size="14.8">69</text><text x="595.7" y="542.2" font-size="14.8">48</text><text x="651.8" y="542.2" font-size="14.8">71</text><text x="595.7" y="559.1" font-size="14.8">47</text><text x="651.8" y="559.1" font-size="14.8">71</text><text x="595.7" y="576.1" font-size="14.8">47</text><text x="651.8" y="576.1" font-size="14.8">70</text><text x="595.7" y="593.1" font-size="14.8">46</text><text x="651.8" y="593.1" font-size="14.8">70</text><text x="595.7" y="610.1" font-size="14.8">49</text><text x="651.8" y="610.1" font-size="14.8">68</text><text x="595.7" y="627.1" font-size="14.8">46</text><text x="651.8" y="627.1" font-size="14.8">65</text><text x="595.7" y="644.1" font-size="14.8">41</text><text x="651.8" y="644.1" font-size="14.8">71</text><text x="595.7" y="661.1" font-size="14.8">49</text><text x="651.8" y="661.1" font-size="14.8">70</text><text x="595.7" y="678.1" font-size="14.8">48</text><text x="651.8" y="678.1" font-size="14.8">71</text><text x="595.7" y="695.1" font-size="14.8">43</text><text x="651.8" y="695.1" font-size="14.8">71</text><text x="595.7" y="712.1" font-size="14.8">46</text><text x="651.8" y="712.1" font-size="14.8">68</text><text x="651.8" y="729.1" font-size="14.8">66</text><text x="595.7" y="746.1" font-size="14.8">46</text><text x="651.8" y="746.1" font-size="14.8">71</text><text x="651.8" y="763.1" font-size="14.8">72</text><text x="595.7" y="780.1" font-size="14.8">47</text><text x="651.8" y="780.1" font-size="14.8">71</text><text x="595.7" y="797.0" font-size="14.8">46</text><text x="651.8" y="797.0" font-size="14.8">71</text><text x="595.7" y="814.0" font-size="14.8">48</text><text x="651.8" y="814.0" font-size="14.8">68</text><text x="595.7" y="831.0" font-size="14.8">48</text><text x="651.8" y="831.0" font-size="14.8">73</text><text x="595.7" y="848.0" font-size="14.8">47</text><text x="651.8" y="848.0" font-size="14.8">72</text><text x="595.7" y="865.0" font-size="14.8">45</text><text x="651.8" y="865.0" font-size="14.8">66</text><text x="595.7" y="882.0" font-size="14.8">46</text><text x="651.8" y="882.0" font-size="14.8">68</text><text x="595.7" y="899.0" font-size="14.8">47</text><text x="651.8" y="899.0" font-size="14.8">74</text><text x="595.7" y="916.0" font-size="14.8">49</text><text x="651.8" y="916.0" font-size="14.8">71</text><text x="708.0" y="423.2" font-size="14.8">42</text><text x="764.1" y="423.2" font-size="14.8">73</text><text x="708.0" y="440.2" font-size="14.8">47</text><text x="764.1" y="440.2" font-size="14.8">62</text><text x="708.0" y="457.2" font-size="14.8">49</text><text x="708.0" y="474.2" font-size="14.8">42</text><text x="764.1" y="474.2" font-size="14.8">72</text><text x="708.0" y="491.2" font-size="14.8">49</text><text x="764.1" y="491.2" font-size="14.8">65</text><text x="708.0" y="508.2" font-size="14.8">46</text><text x="764.1" y="508.2" font-size="14.8">74</text><text x="708.0" y="525.2" font-size="14.8">44</text><text x="764.1" y="525.2" font-size="14.8">72</text><text x="708.0" y="542.2" font-size="14.8">49</text><text x="764.1" y="542.2" font-size="14.8">75</text><text x="708.0" y="559.1" font-size="14.8">47</text><text x="764.1" y="559.1" font-size="14.8">72</text><text x="708.0" y="576.1" font-size="14.8">46</text><text x="764.1" y="576.1" font-size="14.8">66</text><text x="764.1" y="593.1" font-size="14.8">70</text><text x="708.0" y="610.1" font-size="14.8">48</text><text x="764.1" y="610.1" font-size="14.8">74</text><text x="708.0" y="627.1" font-size="14.8">46</text><text x="764.1" y="627.1" font-size="14.8">69</text><text x="708.0" y="644.1" font-size="14.8">45</text><text x="764.1" y="644.1" font-size="14.8">66</text><text x="708.0" y="661.1" font-size="14.8">46</text><text x="708.0" y="678.1" font-size="14.8">49</text><text x="764.1" y="678.1" font-size="14.8">74</text><text x="708.0" y="695.1" font-size="14.8">46</text><text x="764.1" y="695.1" font-size="14.8">65</text><text x="708.0" y="712.1" font-size="14.8">48</text><text x="764.1" y="712.1" font-size="14.8">59</text><text x="708.0" y="729.1" font-size="14.8">45</text><text x="708.0" y="746.1" font-size="14.8">43</text><text x="764.1" y="746.1" font-size="14.8">72</text><text x="708.0" y="763.1" font-size="14.8">49</text><text x="708.0" y="780.1" font-size="14.8">46</text><text x="764.1" y="780.1" font-size="14.8">73</text><text x="708.0" y="797.0" font-size="14.8">48</text><text x="764.1" y="797.0" font-size="14.8">72</text><text x="708.0" y="814.0" font-size="14.8">45</text><text x="764.1" y="814.0" font-size="14.8">73</text><text x="708.0" y="831.0" font-size="14.8">47</text><text x="764.1" y="831.0" font-size="14.8">70</text><text x="708.0" y="848.0" font-size="14.8">49</text><text x="764.1" y="848.0" font-size="14.8">67</text><text x="708.0" y="865.0" font-size="14.8">49</text><text x="764.1" y="865.0" font-size="14.8">57</text><text x="708.0" y="882.0" font-size="14.8">48</text><text x="764.1" y="882.0" font-size="14.8">71</text><text x="708.0" y="899.0" font-size="14.8">49</text><text x="764.1" y="899.0" font-size="14.8">69</text><text x="708.0" y="916.0" font-size="14.8">47</text><text x="820.2" y="423.2" font-size="14.8">34</text><text x="820.2" y="440.2" font-size="14.8">43</text><text x="876.3" y="440.2" font-size="14.8">69</text><text x="820.2" y="457.2" font-size="14.8">46</text><text x="876.3" y="457.2" font-size="14.8">73</text><text x="820.2" y="474.2" font-size="14.8">46</text><text x="876.3" y="474.2" font-size="14.8">65</text><text x="820.2" y="491.2" font-size="14.8">44</text><text x="876.3" y="491.2" font-size="14.8">68</text><text x="820.2" y="508.2" font-size="14.8">34</text><text x="820.2" y="525.2" font-size="14.8">49</text><text x="876.3" y="525.2" font-size="14.8">70</text><text x="820.2" y="542.2" font-size="14.8">48</text><text x="876.3" y="542.2" font-size="14.8">73</text><text x="820.2" y="559.1" font-size="14.8">49</text><text x="820.2" y="576.1" font-size="14.8">44</text><text x="820.2" y="593.1" font-size="14.8">46</text><text x="876.3" y="593.1" font-size="14.8">73</text><text x="820.2" y="610.1" font-size="14.8">42</text><text x="876.3" y="610.1" font-size="14.8">74</text><text x="820.2" y="627.1" font-size="14.8">42</text><text x="876.3" y="627.1" font-size="14.8">75</text><text x="820.2" y="644.1" font-size="14.8">43</text><text x="876.3" y="644.1" font-size="14.8">68</text><text x="820.2" y="661.1" font-size="14.8">42</text><text x="820.2" y="678.1" font-size="14.8">49</text><text x="820.2" y="695.1" font-size="14.8">43</text><text x="876.3" y="695.1" font-size="14.8">68</text><text x="820.2" y="712.1" font-size="14.8">48</text><text x="876.3" y="712.1" font-size="14.8">74</text><text x="820.2" y="729.1" font-size="14.8">45</text><text x="876.3" y="729.1" font-size="14.8">70</text><text x="820.2" y="746.1" font-size="14.8">41</text><text x="820.2" y="763.1" font-size="14.8">42</text><text x="820.2" y="780.1" font-size="14.8">46</text><text x="820.2" y="797.0" font-size="14.8">46</text><text x="876.3" y="797.0" font-size="14.8">75</text><text x="820.2" y="814.0" font-size="14.8">48</text><text x="876.3" y="814.0" font-size="14.8">68</text><text x="820.2" y="831.0" font-size="14.8">36</text><text x="820.2" y="848.0" font-size="14.8">43</text><text x="876.3" y="848.0" font-size="14.8">75</text><text x="820.2" y="865.0" font-size="14.8">43</text><text x="876.3" y="865.0" font-size="14.8">72</text><text x="820.2" y="882.0" font-size="14.8">45</text><text x="820.2" y="899.0" font-size="14.8">47</text><text x="820.2" y="916.0" font-size="14.8">48</text><text x="876.3" y="916.0" font-size="14.8">71</text><text x="932.4" y="423.2" font-size="14.8">22</text><text x="988.5" y="423.2" font-size="14.8">59</text><text x="932.4" y="440.2" font-size="14.8">45</text><text x="988.5" y="440.2" font-size="14.8">73</text><text x="932.4" y="457.2" font-size="14.8">48</text><text x="988.5" y="457.2" font-size="14.8">70</text><text x="932.4" y="474.2" font-size="14.8">47</text><text x="988.5" y="474.2" font-size="14.8">69</text><text x="932.4" y="491.2" font-size="14.8">40</text><text x="988.5" y="491.2" font-size="14.8">71</text><text x="932.4" y="508.2" font-size="14.8">34</text><text x="988.5" y="508.2" font-size="14.8">71</text><text x="932.4" y="525.2" font-size="14.8">45</text><text x="988.5" y="525.2" font-size="14.8">66</text><text x="932.4" y="542.2" font-size="14.8">38</text><text x="988.5" y="542.2" font-size="14.8">74</text><text x="932.4" y="559.1" font-size="14.8">36</text><text x="932.4" y="576.1" font-size="14.8">44</text><text x="988.5" y="576.1" font-size="14.8">64</text><text x="932.4" y="593.1" font-size="14.8">49</text><text x="988.5" y="593.1" font-size="14.8">73</text><text x="932.4" y="610.1" font-size="14.8">32</text><text x="988.5" y="610.1" font-size="14.8">68</text><text x="932.4" y="627.1" font-size="14.8">31</text><text x="988.5" y="627.1" font-size="14.8">72</text><text x="932.4" y="644.1" font-size="14.8">41</text><text x="988.5" y="644.1" font-size="14.8">66</text><text x="932.4" y="661.1" font-size="14.8">28</text><text x="988.5" y="661.1" font-size="14.8">71</text><text x="988.5" y="678.1" font-size="14.8">72</text><text x="932.4" y="695.1" font-size="14.8">30</text><text x="988.5" y="695.1" font-size="14.8">72</text><text x="932.4" y="729.1" font-size="14.8">45</text><text x="988.5" y="729.1" font-size="14.8">69</text><text x="932.4" y="746.1" font-size="14.8">35</text><text x="988.5" y="746.1" font-size="14.8">65</text><text x="932.4" y="763.1" font-size="14.8">40</text><text x="988.5" y="763.1" font-size="14.8">74</text><text x="932.4" y="780.1" font-size="14.8">42</text><text x="988.5" y="780.1" font-size="14.8">74</text><text x="932.4" y="797.0" font-size="14.8">39</text><text x="988.5" y="797.0" font-size="14.8">75</text><text x="932.4" y="814.0" font-size="14.8">37</text><text x="988.5" y="814.0" font-size="14.8">69</text><text x="932.4" y="831.0" font-size="14.8">44</text><text x="988.5" y="831.0" font-size="14.8">74</text><text x="932.4" y="848.0" font-size="14.8">49</text><text x="988.5" y="848.0" font-size="14.8">72</text><text x="932.4" y="865.0" font-size="14.8">44</text><text x="988.5" y="865.0" font-size="14.8">73</text><text x="932.4" y="882.0" font-size="14.8">26</text><text x="988.5" y="882.0" font-size="14.8">72</text><text x="932.4" y="899.0" font-size="14.8">47</text><text x="988.5" y="899.0" font-size="14.8">69</text><text x="932.4" y="916.0" font-size="14.8">34</text><text x="1044.6" y="423.2" font-size="14.8">23</text><text x="1100.7" y="423.2" font-size="14.8">49</text><text x="1044.6" y="440.2" font-size="14.8">33</text><text x="1100.7" y="440.2" font-size="14.8">64</text><text x="1044.6" y="457.2" font-size="14.8">43</text><text x="1100.7" y="457.2" font-size="14.8">70</text><text x="1044.6" y="474.2" font-size="14.8">33</text><text x="1100.7" y="474.2" font-size="14.8">73</text><text x="1044.6" y="491.2" font-size="14.8">32</text><text x="1100.7" y="491.2" font-size="14.8">66</text><text x="1044.6" y="508.2" font-size="14.8">42</text><text x="1100.7" y="508.2" font-size="14.8">62</text><text x="1044.6" y="525.2" font-size="14.8">45</text><text x="1100.7" y="525.2" font-size="14.8">71</text><text x="1044.6" y="542.2" font-size="14.8">41</text><text x="1100.7" y="542.2" font-size="14.8">62</text><text x="1044.6" y="559.1" font-size="14.8">42</text><text x="1100.7" y="559.1" font-size="14.8">74</text><text x="1044.6" y="576.1" font-size="14.8">46</text><text x="1100.7" y="576.1" font-size="14.8">71</text><text x="1044.6" y="593.1" font-size="14.8">43</text><text x="1100.7" y="593.1" font-size="14.8">68</text><text x="1044.6" y="610.1" font-size="14.8">24</text><text x="1100.7" y="610.1" font-size="14.8">66</text><text x="1044.6" y="627.1" font-size="14.8">30</text><text x="1100.7" y="627.1" font-size="14.8">64</text><text x="1044.6" y="644.1" font-size="14.8">41</text><text x="1100.7" y="644.1" font-size="14.8">68</text><text x="1044.6" y="661.1" font-size="14.8">19</text><text x="1100.7" y="661.1" font-size="14.8">53</text><text x="1044.6" y="678.1" font-size="14.8">40</text><text x="1044.6" y="695.1" font-size="14.8">22</text><text x="1100.7" y="695.1" font-size="14.8">58</text><text x="1044.6" y="712.1" font-size="14.8">45</text><text x="1044.6" y="729.1" font-size="14.8">37</text><text x="1100.7" y="729.1" font-size="14.8">65</text><text x="1044.6" y="746.1" font-size="14.8">38</text><text x="1100.7" y="746.1" font-size="14.8">66</text><text x="1044.6" y="763.1" font-size="14.8">30</text><text x="1100.7" y="763.1" font-size="14.8">73</text><text x="1044.6" y="780.1" font-size="14.8">19</text><text x="1100.7" y="797.0" font-size="14.8">73</text><text x="1044.6" y="814.0" font-size="14.8">44</text><text x="1100.7" y="814.0" font-size="14.8">68</text><text x="1044.6" y="831.0" font-size="14.8">27</text><text x="1100.7" y="831.0" font-size="14.8">63</text><text x="1044.6" y="848.0" font-size="14.8">39</text><text x="1100.7" y="848.0" font-size="14.8">73</text><text x="1044.6" y="865.0" font-size="14.8">44</text><text x="1100.7" y="865.0" font-size="14.8">73</text><text x="1100.7" y="882.0" font-size="14.8">59</text><text x="1044.6" y="899.0" font-size="14.8">34</text><text x="1044.6" y="916.0" font-size="14.8">31</text><text x="1100.7" y="916.0" font-size="14.8">70</text><text x="1156.8" y="423.2" font-size="14.8">32</text><text x="1156.8" y="440.2" font-size="14.8">38</text><text x="1212.9" y="440.2" font-size="14.8">65</text><text x="1156.8" y="457.2" font-size="14.8">35</text><text x="1212.9" y="457.2" font-size="14.8">70</text><text x="1156.8" y="474.2" font-size="14.8">39</text><text x="1212.9" y="474.2" font-size="14.8">65</text><text x="1156.8" y="491.2" font-size="14.8">43</text><text x="1212.9" y="491.2" font-size="14.8">62</text><text x="1156.8" y="508.2" font-size="14.8">28</text><text x="1212.9" y="508.2" font-size="14.8">63</text><text x="1156.8" y="525.2" font-size="14.8">46</text><text x="1212.9" y="525.2" font-size="14.8">57</text><text x="1156.8" y="542.2" font-size="14.8">44</text><text x="1212.9" y="542.2" font-size="14.8">65</text><text x="1156.8" y="559.1" font-size="14.8">39</text><text x="1212.9" y="559.1" font-size="14.8">59</text><text x="1156.8" y="576.1" font-size="14.8">41</text><text x="1212.9" y="576.1" font-size="14.8">71</text><text x="1156.8" y="593.1" font-size="14.8">41</text><text x="1212.9" y="593.1" font-size="14.8">71</text><text x="1156.8" y="610.1" font-size="14.8">18</text><text x="1212.9" y="610.1" font-size="14.8">47</text><text x="1156.8" y="627.1" font-size="14.8">28</text><text x="1212.9" y="627.1" font-size="14.8">55</text><text x="1156.8" y="644.1" font-size="14.8">37</text><text x="1212.9" y="644.1" font-size="14.8">69</text><text x="1156.8" y="661.1" font-size="14.8">26</text><text x="1156.8" y="678.1" font-size="14.8">41</text><text x="1212.9" y="678.1" font-size="14.8">69</text><text x="1156.8" y="695.1" font-size="14.8">36</text><text x="1212.9" y="695.1" font-size="14.8">56</text><text x="1156.8" y="712.1" font-size="14.8">40</text><text x="1156.8" y="729.1" font-size="14.8">40</text><text x="1212.9" y="729.1" font-size="14.8">65</text><text x="1156.8" y="746.1" font-size="14.8">40</text><text x="1212.9" y="746.1" font-size="14.8">60</text><text x="1156.8" y="763.1" font-size="14.8">31</text><text x="1212.9" y="763.1" font-size="14.8">56</text><text x="1156.8" y="780.1" font-size="14.8">21</text><text x="1212.9" y="780.1" font-size="14.8">64</text><text x="1156.8" y="797.0" font-size="14.8">20</text><text x="1212.9" y="797.0" font-size="14.8">55</text><text x="1212.9" y="814.0" font-size="14.8">64</text><text x="1156.8" y="831.0" font-size="14.8">37</text><text x="1212.9" y="831.0" font-size="14.8">68</text><text x="1156.8" y="848.0" font-size="14.8">45</text><text x="1212.9" y="848.0" font-size="14.8">73</text><text x="1156.8" y="865.0" font-size="14.8">45</text><text x="1212.9" y="865.0" font-size="14.8">67</text><text x="1156.8" y="882.0" font-size="14.8">28</text><text x="1156.8" y="899.0" font-size="14.8">41</text><text x="1212.9" y="899.0" font-size="14.8">71</text><text x="1156.8" y="916.0" font-size="14.8">27</text><text x="1212.9" y="916.0" font-size="14.8">62</text></g>
<g font-weight="bold" text-anchor="middle" fill="#2f4f4f" stroke="#2f4f4f" stroke-width="0.4"><text x="203.0" y="423.2" font-size="14.8">66</text><text x="203.0" y="440.2" font-size="14.8">64</text><text x="203.0" y="457.2" font-size="14.8">68</text><text x="203.0" y="474.2" font-size="14.8">67</text><text x="203.0" y="491.2" font-size="14.8">67</text><text x="203.0" y="508.2" font-size="14.8">68</text><text x="203.0" y="525.2" font-size="14.8">66</text><text x="203.0" y="542.2" font-size="14.8">66</text><text x="203.0" y="559.1" font-size="14.8">66</text><text x="203.0" y="576.1" font-size="14.8">67</text><text x="203.0" y="593.1" font-size="14.8">66</text><text x="203.0" y="610.1" font-size="14.8">68</text><text x="203.0" y="627.1" font-size="14.8">68</text><text x="203.0" y="644.1" font-size="14.8">67</text><text x="203.0" y="661.1" font-size="14.8">68</text><text x="203.0" y="678.1" font-size="14.8">64</text><text x="203.0" y="695.1" font-size="14.8">67</text><text x="203.0" y="712.1" font-size="14.8">67</text><text x="203.0" y="729.1" font-size="14.8">68</text><text x="203.0" y="746.1" font-size="14.8">69</text><text x="203.0" y="763.1" font-size="14.8">67</text><text x="203.0" y="780.1" font-size="14.8">64</text><text x="203.0" y="797.0" font-size="14.8">67</text><text x="203.0" y="814.0" font-size="14.8">63</text><text x="203.0" y="831.0" font-size="14.8">66</text><text x="203.0" y="848.0" font-size="14.8">68</text><text x="203.0" y="865.0" font-size="14.8">67</text><text x="203.0" y="882.0" font-size="14.8">68</text><text x="203.0" y="899.0" font-size="14.8">67</text><text x="203.0" y="916.0" font-size="14.8">68</text><text x="259.1" y="423.2" font-size="14.8">45</text><text x="315.2" y="423.2" font-size="14.8">72</text><text x="259.1" y="440.2" font-size="14.8">45</text><text x="315.2" y="440.2" font-size="14.8">70</text><text x="259.1" y="457.2" font-size="14.8">46</text><text x="315.2" y="457.2" font-size="14.8">71</text><text x="259.1" y="474.2" font-size="14.8">49</text><text x="315.2" y="474.2" font-size="14.8">68</text><text x="259.1" y="491.2" font-size="14.8">47</text><text x="315.2" y="491.2" font-size="14.8">66</text><text x="259.1" y="508.2" font-size="14.8">44</text><text x="315.2" y="508.2" font-size="14.8">66</text><text x="259.1" y="525.2" font-size="14.8">43</text><text x="315.2" y="525.2" font-size="14.8">69</text><text x="259.1" y="542.2" font-size="14.8">46</text><text x="315.2" y="542.2" font-size="14.8">67</text><text x="259.1" y="559.1" font-size="14.8">49</text><text x="315.2" y="559.1" font-size="14.8">70</text><text x="259.1" y="576.1" font-size="14.8">44</text><text x="315.2" y="576.1" font-size="14.8">69</text><text x="259.1" y="593.1" font-size="14.8">46</text><text x="315.2" y="593.1" font-size="14.8">72</text><text x="259.1" y="610.1" font-size="14.8">47</text><text x="315.2" y="610.1" font-size="14.8">70</text><text x="259.1" y="627.1" font-size="14.8">46</text><text x="315.2" y="627.1" font-size="14.8">71</text><text x="259.1" y="644.1" font-size="14.8">44</text><text x="315.2" y="644.1" font-size="14.8">69</text><text x="259.1" y="661.1" font-size="14.8">44</text><text x="315.2" y="661.1" font-size="14.8">72</text><text x="259.1" y="678.1" font-size="14.8">46</text><text x="315.2" y="678.1" font-size="14.8">73</text><text x="259.1" y="695.1" font-size="14.8">44</text><text x="315.2" y="695.1" font-size="14.8">72</text><text x="259.1" y="712.1" font-size="14.8">44</text><text x="315.2" y="712.1" font-size="14.8">72</text><text x="259.1" y="729.1" font-size="14.8">45</text><text x="315.2" y="729.1" font-size="14.8">71</text><text x="259.1" y="746.1" font-size="14.8">46</text><text x="315.2" y="746.1" font-size="14.8">71</text><text x="259.1" y="763.1" font-size="14.8">46</text><text x="315.2" y="763.1" font-size="14.8">69</text><text x="259.1" y="780.1" font-size="14.8">46</text><text x="315.2" y="780.1" font-size="14.8">70</text><text x="259.1" y="797.0" font-size="14.8">46</text><text x="315.2" y="797.0" font-size="14.8">72</text><text x="259.1" y="814.0" font-size="14.8">47</text><text x="315.2" y="814.0" font-size="14.8">71</text><text x="259.1" y="831.0" font-size="14.8">48</text><text x="315.2" y="831.0" font-size="14.8">73</text><text x="259.1" y="848.0" font-size="14.8">42</text><text x="315.2" y="848.0" font-size="14.8">72</text><text x="259.1" y="865.0" font-size="14.8">47</text><text x="315.2" y="865.0" font-size="14.8">71</text><text x="259.1" y="882.0" font-size="14.8">47</text><text x="315.2" y="882.0" font-size="14.8">63</text><text x="259.1" y="899.0" font-size="14.8">45</text><text x="315.2" y="899.0" font-size="14.8">71</text><text x="259.1" y="916.0" font-size="14.8">45</text><text x="315.2" y="916.0" font-size="14.8">67</text><text x="371.3" y="423.2" font-size="14.8">43</text><text x="427.4" y="423.2" font-size="14.8">70</text><text x="371.3" y="440.2" font-size="14.8">39</text><text x="427.4" y="440.2" font-size="14.8">72</text><text x="371.3" y="457.2" font-size="14.8">44</text><text x="427.4" y="457.2" font-size="14.8">69</text><text x="371.3" y="474.2" font-size="14.8">42</text><text x="427.4" y="474.2" font-size="14.8">69</text><text x="371.3" y="491.2" font-size="14.8">40</text><text x="427.4" y="491.2" font-size="14.8">72</text><text x="371.3" y="508.2" font-size="14.8">39</text><text x="427.4" y="508.2" font-size="14.8">69</text><text x="371.3" y="525.2" font-size="14.8">43</text><text x="427.4" y="525.2" font-size="14.8">69</text><text x="371.3" y="542.2" font-size="14.8">44</text><text x="427.4" y="542.2" font-size="14.8">69</text><text x="371.3" y="559.1" font-size="14.8">48</text><text x="427.4" y="559.1" font-size="14.8">67</text><text x="371.3" y="576.1" font-size="14.8">38</text><text x="427.4" y="576.1" font-size="14.8">68</text><text x="371.3" y="593.1" font-size="14.8">40</text><text x="427.4" y="593.1" font-size="14.8">71</text><text x="371.3" y="610.1" font-size="14.8">41</text><text x="427.4" y="610.1" font-size="14.8">67</text><text x="371.3" y="627.1" font-size="14.8">25</text><text x="427.4" y="627.1" font-size="14.8">69</text><text x="371.3" y="644.1" font-size="14.8">41</text><text x="427.4" y="644.1" font-size="14.8">68</text><text x="371.3" y="661.1" font-size="14.8">39</text><text x="427.4" y="661.1" font-size="14.8">72</text><text x="371.3" y="678.1" font-size="14.8">46</text><text x="427.4" y="678.1" font-size="14.8">66</text><text x="371.3" y="695.1" font-size="14.8">47</text><text x="427.4" y="695.1" font-size="14.8">68</text><text x="371.3" y="712.1" font-size="14.8">43</text><text x="427.4" y="712.1" font-size="14.8">72</text><text x="371.3" y="729.1" font-size="14.8">38</text><text x="427.4" y="729.1" font-size="14.8">69</text><text x="371.3" y="746.1" font-size="14.8">45</text><text x="427.4" y="746.1" font-size="14.8">69</text><text x="371.3" y="763.1" font-size="14.8">44</text><text x="427.4" y="763.1" font-size="14.8">69</text><text x="371.3" y="780.1" font-size="14.8">38</text><text x="427.4" y="780.1" font-size="14.8">70</text><text x="371.3" y="797.0" font-size="14.8">44</text><text x="427.4" y="797.0" font-size="14.8">68</text><text x="371.3" y="814.0" font-size="14.8">45</text><text x="427.4" y="814.0" font-size="14.8">66</text><text x="371.3" y="831.0" font-size="14.8">46</text><text x="427.4" y="831.0" font-size="14.8">71</text><text x="371.3" y="848.0" font-size="14.8">43</text><text x="427.4" y="848.0" font-size="14.8">70</text><text x="371.3" y="865.0" font-size="14.8">27</text><text x="427.4" y="865.0" font-size="14.8">71</text><text x="371.3" y="882.0" font-size="14.8">33</text><text x="427.4" y="882.0" font-size="14.8">67</text><text x="371.3" y="899.0" font-size="14.8">41</text><text x="427.4" y="899.0" font-size="14.8">68</text><text x="371.3" y="916.0" font-size="14.8">41</text><text x="427.4" y="916.0" font-size="14.8">69</text><text x="483.5" y="423.2" font-size="14.8">48</text><text x="539.6" y="423.2" font-size="14.8">74</text><text x="483.5" y="440.2" font-size="14.8">37</text><text x="539.6" y="440.2" font-size="14.8">72</text><text x="483.5" y="457.2" font-size="14.8">45</text><text x="539.6" y="457.2" font-size="14.8">74</text><text x="483.5" y="474.2" font-size="14.8">47</text><text x="483.5" y="491.2" font-size="14.8">42</text><text x="539.6" y="491.2" font-size="14.8">72</text><text x="483.5" y="508.2" font-size="14.8">48</text><text x="483.5" y="525.2" font-size="14.8">47</text><text x="539.6" y="525.2" font-size="14.8">61</text><text x="483.5" y="542.2" font-size="14.8">42</text><text x="539.6" y="542.2" font-size="14.8">73</text><text x="483.5" y="559.1" font-size="14.8">45</text><text x="539.6" y="559.1" font-size="14.8">73</text><text x="483.5" y="576.1" font-size="14.8">45</text><text x="539.6" y="576.1" font-size="14.8">74</text><text x="483.5" y="593.1" font-size="14.8">43</text><text x="539.6" y="593.1" font-size="14.8">73</text><text x="483.5" y="610.1" font-size="14.8">45</text><text x="539.6" y="610.1" font-size="14.8">72</text><text x="483.5" y="627.1" font-size="14.8">46</text><text x="539.6" y="627.1" font-size="14.8">72</text><text x="483.5" y="644.1" font-size="14.8">44</text><text x="539.6" y="644.1" font-size="14.8">74</text><text x="483.5" y="661.1" font-size="14.8">47</text><text x="539.6" y="661.1" font-size="14.8">74</text><text x="483.5" y="678.1" font-size="14.8">42</text><text x="539.6" y="678.1" font-size="14.8">73</text><text x="483.5" y="695.1" font-size="14.8">48</text><text x="539.6" y="695.1" font-size="14.8">70</text><text x="483.5" y="712.1" font-size="14.8">45</text><text x="539.6" y="712.1" font-size="14.8">72</text><text x="483.5" y="729.1" font-size="14.8">48</text><text x="539.6" y="729.1" font-size="14.8">73</text><text x="483.5" y="746.1" font-size="14.8">46</text><text x="539.6" y="746.1" font-size="14.8">74</text><text x="483.5" y="763.1" font-size="14.8">46</text><text x="483.5" y="780.1" font-size="14.8">48</text><text x="539.6" y="780.1" font-size="14.8">73</text><text x="483.5" y="797.0" font-size="14.8">45</text><text x="539.6" y="797.0" font-size="14.8">73</text><text x="483.5" y="814.0" font-size="14.8">48</text><text x="483.5" y="831.0" font-size="14.8">44</text><text x="539.6" y="831.0" font-size="14.8">73</text><text x="483.5" y="848.0" font-size="14.8">42</text><text x="539.6" y="848.0" font-size="14.8">73</text><text x="483.5" y="865.0" font-size="14.8">36</text><text x="539.6" y="865.0" font-size="14.8">73</text><text x="483.5" y="882.0" font-size="14.8">44</text><text x="539.6" y="882.0" font-size="14.8">73</text><text x="483.5" y="899.0" font-size="14.8">42</text><text x="539.6" y="899.0" font-size="14.8">75</text><text x="483.5" y="916.0" font-size="14.8">47</text><text x="595.7" y="423.2" font-size="14.8">48</text><text x="651.8" y="423.2" font-size="14.8">72</text><text x="595.7" y="440.2" font-size="14.8">45</text><text x="651.8" y="440.2" font-size="14.8">73</text><text x="651.8" y="457.2" font-size="14.8">72</text><text x="595.7" y="474.2" font-size="14.8">45</text><text x="651.8" y="474.2" font-size="14.8">66</text><text x="595.7" y="491.2" font-size="14.8">39</text><text x="651.8" y="491.2" font-size="14.8">70</text><text x="651.8" y="508.2" font-size="14.8">67</text><text x="595.7" y="525.2" font-size="14.8">44</text><text x="651.8" y="525.2" font-size="14.8">69</text><text x="595.7" y="542.2" font-size="14.8">48</text><text x="651.8" y="542.2" font-size="14.8">71</text><text x="595.7" y="559.1" font-size="14.8">47</text><text x="651.8" y="559.1" font-size="14.8">71</text><text x="595.7" y="576.1" font-size="14.8">47</text><text x="651.8" y="576.1" font-size="14.8">70</text><text x="595.7" y="593.1" font-size="14.8">46</text><text x="651.8" y="593.1" font-size="14.8">70</text><text x="595.7" y="610.1" font-size="14.8">49</text><text x="651.8" y="610.1" font-size="14.8">68</text><text x="595.7" y="627.1" font-size="14.8">46</text><text x="651.8" y="627.1" font-size="14.8">65</text><text x="595.7" y="644.1" font-size="14.8">41</text><text x="651.8" y="644.1" font-size="14.8">71</text><text x="595.7" y="661.1" font-size="14.8">49</text><text x="651.8" y="661.1" font-size="14.8">70</text><text x="595.7" y="678.1" font-size="14.8">48</text><text x="651.8" y="678.1" font-size="14.8">71</text><text x="595.7" y="695.1" font-size="14.8">43</text><text x="651.8" y="695.1" font-size="14.8">71</text><text x="595.7" y="712.1" font-size="14.8">46</text><text x="651.8" y="712.1" font-size="14.8">68</text><text x="651.8" y="729.1" font-size="14.8">66</text><text x="595.7" y="746.1" font-size="14.8">46</text><text x="651.8" y="746.1" font-size="14.8">71</text><text x="651.8" y="763.1" font-size="14.8">72</text><text x="595.7" y="780.1" font-size="14.8">47</text><text x="651.8" y="780.1" font-size="14.8">71</text><text x="595.7" y="797.0" font-size="14.8">46</text><text x="651.8" y="797.0" font-size="14.8">71</text><text x="595.7" y="814.0" font-size="14.8">48</text><text x="651.8" y="814.0" font-size="14.8">68</text><text x="595.7" y="831.0" font-size="14.8">48</text><text x="651.8" y="831.0" font-size="14.8">73</text><text x="595.7" y="848.0" font-size="14.8">47</text><text x="651.8" y="848.0" font-size="14.8">72</text><text x="595.7" y="865.0" font-size="14.8">45</text><text x="651.8" y="865.0" font-size="14.8">66</text><text x="595.7" y="882.0" font-size="14.8">46</text><text x="651.8" y="882.0" font-size="14.8">68</text><text x="595.7" y="899.0" font-size="14.8">47</text><text x="651.8" y="899.0" font-size="14.8">74</text><text x="595.7" y="916.0" font-size="14.8">49</text><text x="651.8" y="916.0" font-size="14.8">71</text><text x="708.0" y="423.2" font-size="14.8">42</text><text x="764.1" y="423.2" font-size="14.8">73</text><text x="708.0" y="440.2" font-size="14.8">47</text><text x="764.1" y="440.2" font-size="14.8">62</text><text x="708.0" y="457.2" font-size="14.8">49</text><text x="708.0" y="474.2" font-size="14.8">42</text><text x="764.1" y="474.2" font-size="14.8">72</text><text x="708.0" y="491.2" font-size="14.8">49</text><text x="764.1" y="491.2" font-size="14.8">65</text><text x="708.0" y="508.2" font-size="14.8">46</text><text x="764.1" y="508.2" font-size="14.8">74</text><text x="708.0" y="525.2" font-size="14.8">44</text><text x="764.1" y="525.2" font-size="14.8">72</text><text x="708.0" y="542.2" font-size="14.8">49</text><text x="764.1" y="542.2" font-size="14.8">75</text><text x="708.0" y="559.1" font-size="14.8">47</text><text x="764.1" y="559.1" font-size="14.8">72</text><text x="708.0" y="576.1" font-size="14.8">46</text><text x="764.1" y="576.1" font-size="14.8">66</text><text x="764.1" y="593.1" font-size="14.8">70</text><text x="708.0" y="610.1" font-size="14.8">48</text><text x="764.1" y="610.1" font-size="14.8">74</text><text x="708.0" y="627.1" font-size="14.8">46</text><text x="764.1" y="627.1" font-size="14.8">69</text><text x="708.0" y="644.1" font-size="14.8">45</text><text x="764.1" y="644.1" font-size="14.8">66</text><text x="708.0" y="661.1" font-size="14.8">46</text><text x="708.0" y="678.1" font-size="14.8">49</text><text x="764.1" y="678.1" font-size="14.8">74</text><text x="708.0" y="695.1" font-size="14.8">46</text><text x="764.1" y="695.1" font-size="14.8">65</text><text x="708.0" y="712.1" font-size="14.8">48</text><text x="764.1" y="712.1" font-size="14.8">59</text><text x="708.0" y="729.1" font-size="14.8">45</text><text x="708.0" y="746.1" font-size="14.8">43</text><text x="764.1" y="746.1" font-size="14.8">72</text><text x="708.0" y="763.1" font-size="14.8">49</text><text x="708.0" y="780.1" font-size="14.8">46</text><text x="764.1" y="780.1" font-size="14.8">73</text><text x="708.0" y="797.0" font-size="14.8">48</text><text x="764.1" y="797.0" font-size="14.8">72</text><text x="708.0" y="814.0" font-size="14.8">45</text><text x="764.1" y="814.0" font-size="14.8">73</text><text x="708.0" y="831.0" font-size="14.8">47</text><text x="764.1" y="831.0" font-size="14.8">70</text><text x="708.0" y="848.0" font-size="14.8">49</text><text x="764.1" y="848.0" font-size="14.8">67</text><text x="708.0" y="865.0" font-size="14.8">49</text><text x="764.1" y="865.0" font-size="14.8">57</text><text x="708.0" y="882.0" font-size="14.8">48</text><text x="764.1" y="882.0" font-size="14.8">71</text><text x="708.0" y="899.0" font-size="14.8">49</text><text x="764.1" y="899.0" font-size="14.8">69</text><text x="708.0" y="916.0" font-size="14.8">47</text><text x="820.2" y="423.2" font-size="14.8">34</text><text x="820.2" y="440.2" font-size="14.8">43</text><text x="876.3" y="440.2" font-size="14.8">69</text><text x="820.2" y="457.2" font-size="14.8">46</text><text x="876.3" y="457.2" font-size="14.8">73</text><text x="820.2" y="474.2" font-size="14.8">46</text><text x="876.3" y="474.2" font-size="14.8">65</text><text x="820.2" y="491.2" font-size="14.8">44</text><text x="876.3" y="491.2" font-size="14.8">68</text><text x="820.2" y="508.2" font-size="14.8">34</text><text x="820.2" y="525.2" font-size="14.8">49</text><text x="876.3" y="525.2" font-size="14.8">70</text><text x="820.2" y="542.2" font-size="14.8">48</text><text x="876.3" y="542.2" font-size="14.8">73</text><text x="820.2" y="559.1" font-size="14.8">49</text><text x="820.2" y="576.1" font-size="14.8">44</text><text x="820.2" y="593.1" font-size="14.8">46</text><text x="876.3" y="593.1" font-size="14.8">73</text><text x="820.2" y="610.1" font-size="14.8">42</text><text x="876.3" y="610.1" font-size="14.8">74</text><text x="820.2" y="627.1" font-size="14.8">42</text><text x="876.3" y="627.1" font-size="14.8">75</text><text x="820.2" y="644.1" font-size="14.8">43</text><text x="876.3" y="644.1" font-size="14.8">68</text><text x="820.2" y="661.1" font-size="14.8">42</text><text x="820.2" y="678.1" font-size="14.8">49</text><text x="820.2" y="695.1" font-size="14.8">43</text><text x="876.3" y="695.1" font-size="14.8">68</text><text x="820.2" y="712.1" font-size="14.8">48</text><text x="876.3" y="712.1" font-size="14.8">74</text><text x="820.2" y="729.1" font-size="14.8">45</text><text x="876.3" y="729.1" font-size="14.8">70</text><text x="820.2" y="746.1" font-size="14.8">41</text><text x="820.2" y="763.1" font-size="14.8">42</text><text x="820.2" y="780.1" font-size="14.8">46</text><text x="820.2" y="797.0" font-size="14.8">46</text><text x="876.3" y="797.0" font-size="14.8">75</text><text x="820.2" y="814.0" font-size="14.8">48</text><text x="876.3" y="814.0" font-size="14.8">68</text><text x="820.2" y="831.0" font-size="14.8">36</text><text x="820.2" y="848.0" font-size="14.8">43</text><text x="876.3" y="848.0" font-size="14.8">75</text><text x="820.2" y="865.0" font-size="14.8">43</text><text x="876.3" y="865.0" font-size="14.8">72</text><text x="820.2" y="882.0" font-size="14.8">45</text><text x="820.2" y="899.0" font-size="14.8">47</text><text x="820.2" y="916.0" font-size="14.8">48</text><text x="876.3" y="916.0" font-size="14.8">71</text><text x="932.4" y="423.2" font-size="14.8">22</text><text x="988.5" y="423.2" font-size="14.8">59</text><text x="932.4" y="440.2" font-size="14.8">45</text><text x="988.5" y="440.2" font-size="14.8">73</text><text x="932.4" y="457.2" font-size="14.8">48</text><text x="988.5" y="457.2" font-size="14.8">70</text><text x="932.4" y="474.2" font-size="14.8">47</text><text x="988.5" y="474.2" font-size="14.8">69</text><text x="932.4" y="491.2" font-size="14.8">40</text><text x="988.5" y="491.2" font-size="14.8">71</text><text x="932.4" y="508.2" font-size="14.8">34</text><text x="988.5" y="508.2" font-size="14.8">71</text><text x="932.4" y="525.2" font-size="14.8">45</text><text x="988.5" y="525.2" font-size="14.8">66</text><text x="932.4" y="542.2" font-size="14.8">38</text><text x="988.5" y="542.2" font-size="14.8">74</text><text x="932.4" y="559.1" font-size="14.8">36</text><text x="932.4" y="576.1" font-size="14.8">44</text><text x="988.5" y="576.1" font-size="14.8">64</text><text x="932.4" y="593.1" font-size="14.8">49</text><text x="988.5" y="593.1" font-size="14.8">73</text><text x="932.4" y="610.1" font-size="14.8">32</text><text x="988.5" y="610.1" font-size="14.8">68</text><text x="932.4" y="627.1" font-size="14.8">31</text><text x="988.5" y="627.1" font-size="14.8">72</text><text x="932.4" y="644.1" font-size="14.8">41</text><text x="988.5" y="644.1" font-size="14.8">66</text><text x="932.4" y="661.1" font-size="14.8">28</text><text x="988.5" y="661.1" font-size="14.8">71</text><text x="988.5" y="678.1" font-size="14.8">72</text><text x="932.4" y="695.1" font-size="14.8">30</text><text x="988.5" y="695.1" font-size="14.8">72</text><text x="932.4" y="729.1" font-size="14.8">45</text><text x="988.5" y="729.1" font-size="14.8">69</text><text x="932.4" y="746.1" font-size="14.8">35</text><text x="988.5" y="746.1" font-size="14.8">65</text><text x="932.4" y="763.1" font-size="14.8">40</text><text x="988.5" y="763.1" font-size="14.8">74</text><text x="932.4" y="780.1" font-size="14.8">42</text><text x="988.5" y="780.1" font-size="14.8">74</text><text x="932.4" y="797.0" font-size="14.8">39</text><text x="988.5" y="797.0" font-size="14.8">75</text><text x="932.4" y="814.0" font-size="14.8">37</text><text x="988.5" y="814.0" font-size="14.8">69</text><text x="932.4" y="831.0" font-size="14.8">44</text><text x="988.5" y="831.0" font-size="14.8">74</text><text x="932.4" y="848.0" font-size="14.8">49</text><text x="988.5" y="848.0" font-size="14.8">72</text><text x="932.4" y="865.0" font-size="14.8">44</text><text x="988.5" y="865.0" font-size="14.8">73</text><text x="932.4" y="882.0" font-size="14.8">26</text><text x="988.5" y="882.0" font-size="14.8">72</text><text x="932.4" y="899.0" font-size="14.8">47</text><text x="988.5" y="899.0" font-size="14.8">69</text><text x="932.4" y="916.0" font-size="14.8">34</text><text x="1044.6" y="423.2" font-size="14.8">23</text><text x="1100.7" y="423.2" font-size="14.8">49</text><text x="1044.6" y="440.2" font-size="14.8">33</text><text x="1100.7" y="440.2" font-size="14.8">64</text><text x="1044.6" y="457.2" font-size="14.8">43</text><text x="1100.7" y="457.2" font-size="14.8">70</text><text x="1044.6" y="474.2" font-size="14.8">33</text><text x="1100.7" y="474.2" font-size="14.8">73</text><text x="1044.6" y="491.2" font-size="14.8">32</text><text x="1100.7" y="491.2" font-size="14.8">66</text><text x="1044.6" y="508.2" font-size="14.8">42</text><text x="1100.7" y="508.2" font-size="14.8">62</text><text x="1044.6" y="525.2" font-size="14.8">45</text><text x="1100.7" y="525.2" font-size="14.8">71</text><text x="1044.6" y="542.2" font-size="14.8">41</text><text x="1100.7" y="542.2" font-size="14.8">62</text><text x="1044.6" y="559.1" font-size="14.8">42</text><text x="1100.7" y="559.1" font-size="14.8">74</text><text x="1044.6" y="576.1" font-size="14.8">46</text><text x="1100.7" y="576.1" font-size="14.8">71</text><text x="1044.6" y="593.1" font-size="14.8">43</text><text x="1100.7" y="593.1" font-size="14.8">68</text><text x="1044.6" y="610.1" font-size="14.8">24</text><text x="1100.7" y="610.1" font-size="14.8">66</text><text x="1044.6" y="627.1" font-size="14.8">30</text><text x="1100.7" y="627.1" font-size="14.8">64</text><text x="1044.6" y="644.1" font-size="14.8">41</text><text x="1100.7" y="644.1" font-size="14.8">68</text><text x="1044.6" y="661.1" font-size="14.8">19</text><text x="1100.7" y="661.1" font-size="14.8">53</text><text x="1044.6" y="678.1" font-size="14.8">40</text><text x="1044.6" y="695.1" font-size="14.8">22</text><text x="1100.7" y="695.1" font-size="14.8">58</text><text x="1044.6" y="712.1" font-size="14.8">45</text><text x="1044.6" y="729.1" font-size="14.8">37</text><text x="1100.7" y="729.1" font-size="14.8">65</text><text x="1044.6" y="746.1" font-size="14.8">38</text><text x="1100.7" y="746.1" font-size="14.8">66</text><text x="1044.6" y="763.1" font-size="14.8">30</text><text x="1100.7" y="763.1" font-size="14.8">73</text><text x="1044.6" y="780.1" font-size="14.8">19</text><text x="1100.7" y="797.0" font-size="14.8">73</text><text x="1044.6" y="814.0" font-size="14.8">44</text><text x="1100.7" y="814.0" font-size="14.8">68</text><text x="1044.6" y="831.0" font-size="14.8">27</text><text x="1100.7" y="831.0" font-size="14.8">63</text><text x="1044.6" y="848.0" font-size="14.8">39</text><text x="1100.7" y="848.0" font-size="14.8">73</text><text x="1044.6" y="865.0" font-size="14.8">44</text><text x="1100.7" y="865.0" font-size="14.8">73</text><text x="1100.7" y="882.0" font-size="14.8">59</text><text x="1044.6" y="899.0" font-size="14.8">34</text><text x="1044.6" y="916.0" font-size="14.8">31</text><text x="1100.7" y="916.0" font-size="14.8">70</text><text x="1156.8" y="423.2" font-size="14.8">32</text><text x="1156.8" y="440.2" font-size="14.8">38</text><text x="1212.9" y="440.2" font-size="14.8">65</text><text x="1156.8" y="457.2" font-size="14.8">35</text><text x="1212.9" y="457.2" font-size="14.8">70</text><text x="1156.8" y="474.2" font-size="14.8">39</text><text x="1212.9" y="474.2" font-size="14.8">65</text><text x="1156.8" y="491.2" font-size="14.8">43</text><text x="1212.9" y="491.2" font-size="14.8">62</text><text x="1156.8" y="508.2" font-size="14.8">28</text><text x="1212.9" y="508.2" font-size="14.8">63</text><text x="1156.8" y="525.2" font-size="14.8">46</text><text x="1212.9" y="525.2" font-size="14.8">57</text><text x="1156.8" y="542.2" font-size="14.8">44</text><text x="1212.9" y="542.2" font-size="14.8">65</text><text x="1156.8" y="559.1" font-size="14.8">39</text><text x="1212.9" y="559.1" font-size="14.8">59</text><text x="1156.8" y="576.1" font-size="14.8">41</text><text x="1212.9" y="576.1" font-size="14.8">71</text><text x="1156.8" y="593.1" font-size="14.8">41</text><text x="1212.9" y="593.1" font-size="14.8">71</text><text x="1156.8" y="610.1" font-size="14.8">18</text><text x="1212.9" y="610.1" font-size="14.8">47</text><text x="1156.8" y="627.1" font-size="14.8">28</text><text x="1212.9" y="627.1" font-size="14.8">55</text><text x="1156.8" y="644.1" font-size="14.8">37</text><text x="1212.9" y="644.1" font-size="14.8">69</text><text x="1156.8" y="661.1" font-size="14.8">26</text><text x="1156.8" y="678.1" font-size="14.8">41</text><text x="1212.9" y="678.1" font-size="14.8">69</text><text x="1156.8" y="695.1" font-size="14.8">36</text><text x="1212.9" y="695.1" font-size="14.8">56</text><text x="1156.8" y="712.1" font-size="14.8">40</text><text x="1156.8" y="729.1" font-size="14.8">40</text><text x="1212.9" y="729.1" font-size="14.8">65</text><text x="1156.8" y="746.1" font-size="14.8">40</text><text x="1212.9" y="746.1" font-size="14.8">60</text><text x="1156.8" y="763.1" font-size="14.8">31</text><text x="1212.9" y="763.1" font-size="14.8">56</text><text x="1156.8" y="780.1" font-size="14.8">21</text><text x="1212.9" y="780.1" font-size="14.8">64</text><text x="1156.8" y="797.0" font-size="14.8">20</text><text x="1212.9" y="797.0" font-size="14.8">55</text><text x="1212.9" y="814.0" font-size="14.8">64</text><text x="1156.8" y="831.0" font-size="14.8">37</text><text x="1212.9" y="831.0" font-size="14.8">68</text><text x="1156.8" y="848.0" font-size="14.8">45</text><text x="1212.9" y="848.0" font-size="14.8">73</text><text x="1156.8" y="865.0" font-size="14.8">45</text><text x="1212.9" y="865.0" font-size="14.8">67</text><text x="1156.8" y="882.0" font-size="14.8">28</text><text x="1156.8" y="899.0" font-size="14.8">41</text><text x="1212.9" y="899.0" font-size="14.8">71</text><text x="1156.8" y="916.0" font-size="14.8">27</text><text x="1212.9" y="916.0" font-size="14.8">62</text></g>
<g font-weight="bold" text-anchor="middle" fill="#fff" stroke="#fff" stroke-width="0.4"><text x="539.6" y="474.2" font-size="14.8">75</text><text x="539.6" y="508.2" font-size="14.8">76</text><text x="539.6" y="763.1" font-size="14.8">76</text><text x="539.6" y="814.0" font-size="14.8">75</text><text x="539.6" y="916.0" font-size="14.8">75</text><text x="595.7" y="457.2" font-size="14.8">50</text><text x="595.7" y="508.2" font-size="14.8">50</text><text x="595.7" y="729.1" font-size="14.8">50</text><text x="595.7" y="763.1" font-size="14.8">52</text><text x="764.1" y="457.2" font-size="14.8">76</text><text x="708.0" y="593.1" font-size="14.8">51</text><text x="764.1" y="661.1" font-size="14.8">77</text><text x="764.1" y="729.1" font-size="14.8">75</text><text x="764.1" y="763.1" font-size="14.8">76</text><text x="764.1" y="916.0" font-size="14.8">76</text><text x="876.3" y="423.2" font-size="14.8">76</text><text x="876.3" y="508.2" font-size="14.8">78</text><text x="876.3" y="559.1" font-size="14.8">76</text><text x="876.3" y="576.1" font-size="14.8">75</text><text x="876.3" y="661.1" font-size="14.8">75</text><text x="876.3" y="678.1" font-size="14.8">75</text><text x="876.3" y="746.1" font-size="14.8">76</text><text x="876.3" y="763.1" font-size="14.8">77</text><text x="876.3" y="780.1" font-size="14.8">76</text><text x="876.3" y="831.0" font-size="14.8">75</text><text x="876.3" y="882.0" font-size="14.8">76</text><text x="876.3" y="899.0" font-size="14.8">77</text><text x="988.5" y="559.1" font-size="14.8">75</text><text x="932.4" y="678.1" font-size="14.8">51</text><text x="932.4" y="712.1" font-size="14.8">52</text><text x="988.5" y="712.1" font-size="14.8">76</text><text x="988.5" y="916.0" font-size="14.8">75</text><text x="1100.7" y="678.1" font-size="14.8">78</text><text x="1100.7" y="712.1" font-size="14.8">78</text><text x="1100.7" y="780.1" font-size="14.8">77</text><text x="1044.6" y="797.0" font-size="14.8">16</text><text x="1044.6" y="882.0" font-size="14.8">17</text><text x="1100.7" y="899.0" font-size="14.8">77</text><text x="1212.9" y="423.2" font-size="14.8">39</text><text x="1212.9" y="661.1" font-size="14.8">36</text><text x="1212.9" y="712.1" font-size="14.8">78</text><text x="1156.8" y="814.0" font-size="14.8">54</text><text x="1212.9" y="882.0" font-size="14.8">36</text></g>
</g>
<defs><clipPath id="hc"><rect x="116.7" y="374.6" width="1122.2" height="15.099999999999966"/></clipPath></defs>
<g clip-path="url(#hc)" font-size="19.5" font-weight="bold" fill="#000">
<text x="172.8" y="390.4" text-anchor="middle">Sun 4/5</text>
<text x="285.0" y="390.4" text-anchor="middle">Mon 4/6</text>
<text x="397.2" y="390.4" text-anchor="middle">Tue 4/7</text>
<text x="509.5" y="390.4" text-anchor="middle">Wed 4/8</text>
<text x="621.7" y="390.4" text-anchor="middle">Thu 4/9</text>
<text x="733.9" y="390.4" text-anchor="middle">Fri 4/10</text>
<text x="846.1" y="390.4" text-anchor="middle">Sat 4/11</text>
<text x="958.4" y="390.4" text-anchor="middle">Sun 4/12</text>
<text x="1070.6" y="390.4" text-anchor="middle">Mon 4/13</text>
<text x="1182.8" y="390.4" text-anchor="middle">Tue 4/14</text>
</g>
<line x1="228.92" x2="228.92" y1="374.6" y2="918.4" stroke="#000" stroke-width="2.8"/>
<line x1="341.14" x2="341.14" y1="374.6" y2="918.4" stroke="#000" stroke-width="2.8"/>
<line x1="453.36" x2="453.36" y1="374.6" y2="918.4" stroke="#000" stroke-width="2.8"/>
<line x1="565.58" x2="565.58" y1="374.6" y2="918.4" stroke="#000" stroke-width="2.8"/>
<line x1="677.80" x2="677.80" y1="374.6" y2="918.4" stroke="#000" stroke-width="2.8"/>
<line x1="790.02" x2="790.02" y1="374.6" y2="918.4" stroke="#000" stroke-width="2.8"/>
<line x1="902.24" x2="902.24" y1="374.6" y2="918.4" stroke="#000" stroke-width="2.8"/>
<line x1="1014.46" x2="1014.46" y1="374.6" y2="918.4" stroke="#000" stroke-width="2.8"/>
<line x1="1126.68" x2="1126.68" y1="374.6" y2="918.4" stroke="#000" stroke-width="2.8"/>
<path d="M116.7,374.6 L116.7,918.4 L1238.9,918.4 L1238.9,374.6" fill="none" stroke="#222" stroke-width="1.3"/>
<text x="106.5" y="406.9" font-size="19.5" text-anchor="end" fill="#000">Median</text>
<text x="106.5" y="423.8" font-size="18.5" text-anchor="end" fill="#000">30</text>
<text x="106.5" y="440.8" font-size="18.5" text-anchor="end" fill="#000">29</text>
<text x="106.5" y="457.8" font-size="18.5" text-anchor="end" fill="#000">28</text>
<text x="106.5" y="474.8" font-size="18.5" text-anchor="end" fill="#000">27</text>
<text x="106.5" y="491.8" font-size="18.5" text-anchor="end" fill="#000">26</text>
<text x="106.5" y="508.8" font-size="18.5" text-anchor="end" fill="#000">25</text>
<text x="106.5" y="525.8" font-size="18.5" text-anchor="end" fill="#000">24</text>
<text x="106.5" y="542.8" font-size="18.5" text-anchor="end" fill="#000">23</text>
<text x="106.5" y="559.7" font-size="18.5" text-anchor="end" fill="#000">22</text>
<text x="106.5" y="576.7" font-size="18.5" text-anchor="end" fill="#000">21</text>
<text x="106.5" y="593.7" font-size="18.5" text-anchor="end" fill="#000">20</text>
<text x="106.5" y="610.7" font-size="18.5" text-anchor="end" fill="#000">19</text>
<text x="106.5" y="627.7" font-size="18.5" text-anchor="end" fill="#000">18</text>
<text x="106.5" y="644.7" font-size="18.5" text-anchor="end" fill="#000">17</text>
<text x="106.5" y="661.7" font-size="18.5" text-anchor="end" fill="#000">16</text>
<text x="106.5" y="678.7" font-size="18.5" text-anchor="end" fill="#000">15</text>
<text x="106.5" y="695.7" font-size="18.5" text-anchor="end" fill="#000">14</text>
<text x="106.5" y="712.7" font-size="18.5" text-anchor="end" fill="#000">13</text>
<text x="106.5" y="729.7" font-size="18.5" text-anchor="end" fill="#000">12</text>
<text x="106.5" y="746.7" font-size="18.5" text-anchor="end" fill="#000">11</text>
<text x="106.5" y="763.7" font-size="18.5" text-anchor="end" fill="#000">10</text>
<text x="106.5" y="780.7" font-size="18.5" text-anchor="end" fill="#000">9</text>
<text x="106.5" y="797.6" font-size="18.5" text-anchor="end" fill="#000">8</text>
<text x="106.5" y="814.6" font-size="18.5" text-anchor="end" fill="#000">7</text>
<text x="106.5" y="831.6" font-size="18.5" text-anchor="end" fill="#000">6</text>
<text x="106.5" y="848.6" font-size="18.5" text-anchor="end" fill="#000">5</text>
<text x="106.5" y="865.6" font-size="18.5" text-anchor="end" fill="#000">4</text>
<text x="106.5" y="882.6" font-size="18.5" text-anchor="end" fill="#000">3</text>
<text x="106.5" y="899.6" font-size="18.5" text-anchor="end" fill="#000">2</text>
<text x="106.5" y="916.6" font-size="18.5" text-anchor="end" fill="#000">1</text>
<text transform="translate(30,646) rotate(-90)" font-size="19.8" text-anchor="middle" fill="#000">Individual Ensemble Members</text>
<path d="M1340.4,286.2 L1377.2,233.9 L1413.9,286.2 Z" fill="#a00020" stroke="#000" stroke-width="1"/>
<rect x="1340.4" y="286.2" width="73.5" height="52.0" fill="#ff3f3f" stroke="#000" stroke-width="1"/>
<rect x="1340.4" y="338.2" width="73.5" height="51.9" fill="#fdaa72" stroke="#000" stroke-width="1"/>
<rect x="1340.4" y="390.1" width="73.5" height="51.9" fill="#fef0bf" stroke="#000" stroke-width="1"/>
<rect x="1340.4" y="442.0" width="73.5" height="52.3" fill="#ffffff" stroke="#000" stroke-width="1"/>
<rect x="1340.4" y="494.3" width="73.5" height="52.1" fill="#bcf6fc" stroke="#000" stroke-width="1"/>
<rect x="1340.4" y="546.4" width="73.5" height="52.1" fill="#73d0fc" stroke="#000" stroke-width="1"/>
<rect x="1340.4" y="598.5" width="73.5" height="51.5" fill="#3f86f6" stroke="#000" stroke-width="1"/>
<path d="M1340.4,650.0 L1377.2,702.4 L1413.9,650.0 Z" fill="#2500d6" stroke="#000" stroke-width="1"/>
<text x="1322.6" y="293.8" font-size="21.5" font-weight="bold" text-anchor="end" fill="#000">16</text>
<circle cx="1326.5" cy="281.5" r="2.75" fill="none" stroke="#000" stroke-width="1.1"/>
<path d="M1281.7,287.4 H1294.7 M1288.2,280.9 V293.8" stroke="#000" stroke-width="2" fill="none"/>
<text x="1322.6" y="345.8" font-size="21.5" font-weight="bold" text-anchor="end" fill="#000">12</text>
<circle cx="1326.5" cy="333.5" r="2.75" fill="none" stroke="#000" stroke-width="1.1"/>
<path d="M1281.7,339.4 H1294.7 M1288.2,332.9 V345.8" stroke="#000" stroke-width="2" fill="none"/>
<text x="1322.6" y="397.7" font-size="21.5" font-weight="bold" text-anchor="end" fill="#000">8</text>
<circle cx="1326.5" cy="385.4" r="2.75" fill="none" stroke="#000" stroke-width="1.1"/>
<path d="M1293.6,391.3 H1306.6 M1300.1,384.8 V397.7" stroke="#000" stroke-width="2" fill="none"/>
<text x="1322.6" y="449.6" font-size="21.5" font-weight="bold" text-anchor="end" fill="#000">4</text>
<circle cx="1326.5" cy="437.3" r="2.75" fill="none" stroke="#000" stroke-width="1.1"/>
<path d="M1293.6,443.2 H1306.6 M1300.1,436.7 V449.6" stroke="#000" stroke-width="2" fill="none"/>
<text x="1322.6" y="501.9" font-size="21.5" font-weight="bold" text-anchor="end" fill="#000">4</text>
<circle cx="1326.5" cy="489.6" r="2.75" fill="none" stroke="#000" stroke-width="1.1"/>
<rect x="1302.0" y="494.2" width="7.2" height="3.2" fill="#000"/>
<text x="1322.6" y="554.0" font-size="21.5" font-weight="bold" text-anchor="end" fill="#000">8</text>
<circle cx="1326.5" cy="541.7" r="2.75" fill="none" stroke="#000" stroke-width="1.1"/>
<rect x="1302.0" y="546.3" width="7.2" height="3.2" fill="#000"/>
<text x="1322.6" y="606.1" font-size="21.5" font-weight="bold" text-anchor="end" fill="#000">12</text>
<circle cx="1326.5" cy="593.8" r="2.75" fill="none" stroke="#000" stroke-width="1.1"/>
<rect x="1290.1" y="598.4" width="7.2" height="3.2" fill="#000"/>
<text x="1322.6" y="657.6" font-size="21.5" font-weight="bold" text-anchor="end" fill="#000">16</text>
<circle cx="1326.5" cy="645.3" r="2.75" fill="none" stroke="#000" stroke-width="1.1"/>
<rect x="1290.1" y="649.9" width="7.2" height="3.2" fill="#000"/>
<g font-size="20.6" font-weight="bold" text-anchor="middle" fill="#000"><text x="1355.3" y="729">Temperature</text><text x="1355.3" y="757">Anomaly</text><text x="1355.3" y="785.5">[°F]</text></g>
</svg></body></html>
